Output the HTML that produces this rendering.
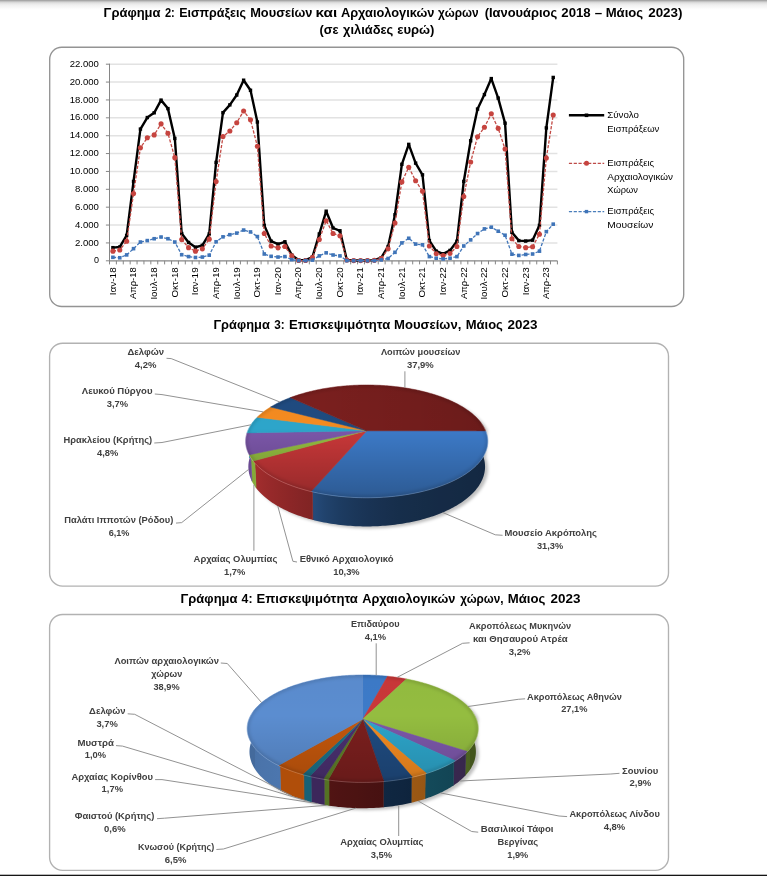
<!DOCTYPE html>
<html lang="el"><head><meta charset="utf-8"><title>Γραφήματα</title>
<style>
html,body{margin:0;padding:0;background:#fff;}
body{width:767px;height:876px;overflow:hidden;}
svg{display:block;will-change:transform;font-family:"Liberation Sans",sans-serif;}
.tt{font-size:13.4px;font-weight:bold;fill:#000;}
.lb{font-size:9.9px;font-weight:bold;fill:#404040;}
.ax{font-size:9.9px;fill:#000;}
.lg{font-size:9.8px;fill:#000;}
</style></head><body>
<svg width="767" height="876" viewBox="0 0 767 876">
<defs>
<filter id="blur2" x="-10%" y="-10%" width="120%" height="120%"><feGaussianBlur stdDeviation="1.8"/></filter>
<filter id="blur" x="-10%" y="-10%" width="120%" height="120%"><feGaussianBlur stdDeviation="1.6"/></filter>
<linearGradient id="topg" x1="0" y1="0" x2="0" y2="1">
<stop offset="0" stop-color="#989898"/><stop offset="0.12" stop-color="#bcbcbc"/><stop offset="0.28" stop-color="#e0e0e0"/><stop offset="0.5" stop-color="#f0f0f0"/><stop offset="0.8" stop-color="#fafafa"/><stop offset="1" stop-color="#ffffff"/>
</linearGradient>
<linearGradient id="sg1" gradientUnits="userSpaceOnUse" x1="245" y1="0" x2="488" y2="0">
<stop offset="0" stop-color="#000" stop-opacity="0.25"/><stop offset="0.12" stop-color="#fff" stop-opacity="0.08"/><stop offset="0.45" stop-color="#000" stop-opacity="0.0"/><stop offset="1" stop-color="#000" stop-opacity="0.35"/>
</linearGradient>
<linearGradient id="sg2" gradientUnits="userSpaceOnUse" x1="247" y1="0" x2="478" y2="0">
<stop offset="0" stop-color="#000" stop-opacity="0.15"/><stop offset="0.12" stop-color="#fff" stop-opacity="0.08"/><stop offset="0.45" stop-color="#000" stop-opacity="0.0"/><stop offset="1" stop-color="#000" stop-opacity="0.35"/>
</linearGradient>
<linearGradient id="hg1" gradientUnits="userSpaceOnUse" x1="320" y1="0" x2="488" y2="0"><stop offset="0" stop-color="#000" stop-opacity="0"/><stop offset="1" stop-color="#000" stop-opacity="0.13"/></linearGradient>
<linearGradient id="hg2" gradientUnits="userSpaceOnUse" x1="320" y1="0" x2="478" y2="0"><stop offset="0" stop-color="#000" stop-opacity="0"/><stop offset="1" stop-color="#000" stop-opacity="0.13"/></linearGradient>
<linearGradient id="tg1" gradientUnits="userSpaceOnUse" x1="0" y1="385" x2="0" y2="498">
<stop offset="0" stop-color="#000" stop-opacity="0.02"/><stop offset="0.38" stop-color="#000" stop-opacity="0"/><stop offset="1" stop-color="#000" stop-opacity="0.27"/>
</linearGradient>
<linearGradient id="tg2" gradientUnits="userSpaceOnUse" x1="0" y1="675" x2="0" y2="782">
<stop offset="0" stop-color="#000" stop-opacity="0.02"/><stop offset="0.38" stop-color="#000" stop-opacity="0"/><stop offset="1" stop-color="#000" stop-opacity="0.15"/>
</linearGradient>
</defs>
<rect width="767" height="876" fill="#fff"/>
<rect width="767" height="10" fill="url(#topg)"/>
<rect x="0" y="874.7" width="767" height="1.3" fill="#151515"/>
<text class="tt" x="103.6" y="17.0" textLength="56.9" lengthAdjust="spacingAndGlyphs">Γράφημα</text>
<text class="tt" x="164.9" y="17.0" textLength="9.9" lengthAdjust="spacingAndGlyphs">2:</text>
<text class="tt" x="179.2" y="17.0" textLength="66.8" lengthAdjust="spacingAndGlyphs">Εισπράξεις</text>
<text class="tt" x="250.2" y="17.0" textLength="62.3" lengthAdjust="spacingAndGlyphs">Μουσείων</text>
<text class="tt" x="315.6" y="17.0" textLength="21.6" lengthAdjust="spacingAndGlyphs">και</text>
<text class="tt" x="340.9" y="17.0" textLength="93.6" lengthAdjust="spacingAndGlyphs">Αρχαιολογικών</text>
<text class="tt" x="438.1" y="17.0" textLength="40.5" lengthAdjust="spacingAndGlyphs">χώρων</text>
<text class="tt" x="484.7" y="17.0" textLength="72.5" lengthAdjust="spacingAndGlyphs">(Ιανουάριος</text>
<text class="tt" x="561.3" y="17.0" textLength="29.4" lengthAdjust="spacingAndGlyphs">2018</text>
<text class="tt" x="594.8" y="17.0" textLength="7.4" lengthAdjust="spacingAndGlyphs">–</text>
<text class="tt" x="605.7" y="17.0" textLength="37.5" lengthAdjust="spacingAndGlyphs">Μάιος</text>
<text class="tt" x="648.2" y="17.0" textLength="34.3" lengthAdjust="spacingAndGlyphs">2023)</text>
<text class="tt" x="319.5" y="34.0" textLength="19.0" lengthAdjust="spacingAndGlyphs">(σε</text>
<text class="tt" x="343.0" y="34.0" textLength="50.3" lengthAdjust="spacingAndGlyphs">χιλιάδες</text>
<text class="tt" x="397.2" y="34.0" textLength="37.3" lengthAdjust="spacingAndGlyphs">ευρώ)</text>
<text class="tt" x="213.4" y="328.8" textLength="56.4" lengthAdjust="spacingAndGlyphs">Γράφημα</text>
<text class="tt" x="274.2" y="328.8" textLength="10.4" lengthAdjust="spacingAndGlyphs">3:</text>
<text class="tt" x="289.0" y="328.8" textLength="101.3" lengthAdjust="spacingAndGlyphs">Επισκεψιμότητα</text>
<text class="tt" x="394.1" y="328.8" textLength="67.2" lengthAdjust="spacingAndGlyphs">Μουσείων,</text>
<text class="tt" x="465.7" y="328.8" textLength="37.2" lengthAdjust="spacingAndGlyphs">Μάιος</text>
<text class="tt" x="507.5" y="328.8" textLength="29.9" lengthAdjust="spacingAndGlyphs">2023</text>
<text class="tt" x="180.5" y="603.3" textLength="57.0" lengthAdjust="spacingAndGlyphs">Γράφημα</text>
<text class="tt" x="241.6" y="603.3" textLength="10.9" lengthAdjust="spacingAndGlyphs">4:</text>
<text class="tt" x="256.6" y="603.3" textLength="101.3" lengthAdjust="spacingAndGlyphs">Επισκεψιμότητα</text>
<text class="tt" x="362.2" y="603.3" textLength="93.3" lengthAdjust="spacingAndGlyphs">Αρχαιολογικών</text>
<text class="tt" x="460.2" y="603.3" textLength="43.4" lengthAdjust="spacingAndGlyphs">χώρων,</text>
<text class="tt" x="507.7" y="603.3" textLength="37.6" lengthAdjust="spacingAndGlyphs">Μάιος</text>
<text class="tt" x="550.6" y="603.3" textLength="29.9" lengthAdjust="spacingAndGlyphs">2023</text>
<rect x="49.7" y="47.2" width="634.0" height="259.3" rx="12" ry="12" fill="#fff" stroke="#949494" stroke-width="1.35"/>
<line x1="109.5" y1="242.93" x2="557.4" y2="242.93" stroke="#e2e2e2" stroke-width="1.4"/>
<line x1="109.5" y1="225.05" x2="557.4" y2="225.05" stroke="#e2e2e2" stroke-width="1.4"/>
<line x1="109.5" y1="207.18" x2="557.4" y2="207.18" stroke="#e2e2e2" stroke-width="1.4"/>
<line x1="109.5" y1="189.31" x2="557.4" y2="189.31" stroke="#e2e2e2" stroke-width="1.4"/>
<line x1="109.5" y1="171.44" x2="557.4" y2="171.44" stroke="#e2e2e2" stroke-width="1.4"/>
<line x1="109.5" y1="153.56" x2="557.4" y2="153.56" stroke="#e2e2e2" stroke-width="1.4"/>
<line x1="109.5" y1="135.69" x2="557.4" y2="135.69" stroke="#e2e2e2" stroke-width="1.4"/>
<line x1="109.5" y1="117.82" x2="557.4" y2="117.82" stroke="#e2e2e2" stroke-width="1.4"/>
<line x1="109.5" y1="99.95" x2="557.4" y2="99.95" stroke="#e2e2e2" stroke-width="1.4"/>
<line x1="109.5" y1="82.07" x2="557.4" y2="82.07" stroke="#e2e2e2" stroke-width="1.4"/>
<line x1="109.5" y1="64.20" x2="557.4" y2="64.20" stroke="#e2e2e2" stroke-width="1.4"/>
<line x1="109.5" y1="63.7" x2="109.5" y2="261.3" stroke="#868686" stroke-width="1"/>
<line x1="109.0" y1="260.8" x2="557.4" y2="260.8" stroke="#868686" stroke-width="1.2"/>
<line x1="105.9" y1="260.80" x2="109.5" y2="260.80" stroke="#868686" stroke-width="1"/>
<line x1="105.9" y1="242.93" x2="109.5" y2="242.93" stroke="#868686" stroke-width="1"/>
<line x1="105.9" y1="225.05" x2="109.5" y2="225.05" stroke="#868686" stroke-width="1"/>
<line x1="105.9" y1="207.18" x2="109.5" y2="207.18" stroke="#868686" stroke-width="1"/>
<line x1="105.9" y1="189.31" x2="109.5" y2="189.31" stroke="#868686" stroke-width="1"/>
<line x1="105.9" y1="171.44" x2="109.5" y2="171.44" stroke="#868686" stroke-width="1"/>
<line x1="105.9" y1="153.56" x2="109.5" y2="153.56" stroke="#868686" stroke-width="1"/>
<line x1="105.9" y1="135.69" x2="109.5" y2="135.69" stroke="#868686" stroke-width="1"/>
<line x1="105.9" y1="117.82" x2="109.5" y2="117.82" stroke="#868686" stroke-width="1"/>
<line x1="105.9" y1="99.95" x2="109.5" y2="99.95" stroke="#868686" stroke-width="1"/>
<line x1="105.9" y1="82.07" x2="109.5" y2="82.07" stroke="#868686" stroke-width="1"/>
<line x1="105.9" y1="64.20" x2="109.5" y2="64.20" stroke="#868686" stroke-width="1"/>
<line x1="109.50" y1="260.8" x2="109.50" y2="264.40000000000003" stroke="#868686" stroke-width="1"/>
<line x1="116.39" y1="260.8" x2="116.39" y2="264.40000000000003" stroke="#868686" stroke-width="1"/>
<line x1="123.28" y1="260.8" x2="123.28" y2="264.40000000000003" stroke="#868686" stroke-width="1"/>
<line x1="130.17" y1="260.8" x2="130.17" y2="264.40000000000003" stroke="#868686" stroke-width="1"/>
<line x1="137.06" y1="260.8" x2="137.06" y2="264.40000000000003" stroke="#868686" stroke-width="1"/>
<line x1="143.95" y1="260.8" x2="143.95" y2="264.40000000000003" stroke="#868686" stroke-width="1"/>
<line x1="150.84" y1="260.8" x2="150.84" y2="264.40000000000003" stroke="#868686" stroke-width="1"/>
<line x1="157.74" y1="260.8" x2="157.74" y2="264.40000000000003" stroke="#868686" stroke-width="1"/>
<line x1="164.63" y1="260.8" x2="164.63" y2="264.40000000000003" stroke="#868686" stroke-width="1"/>
<line x1="171.52" y1="260.8" x2="171.52" y2="264.40000000000003" stroke="#868686" stroke-width="1"/>
<line x1="178.41" y1="260.8" x2="178.41" y2="264.40000000000003" stroke="#868686" stroke-width="1"/>
<line x1="185.30" y1="260.8" x2="185.30" y2="264.40000000000003" stroke="#868686" stroke-width="1"/>
<line x1="192.19" y1="260.8" x2="192.19" y2="264.40000000000003" stroke="#868686" stroke-width="1"/>
<line x1="199.08" y1="260.8" x2="199.08" y2="264.40000000000003" stroke="#868686" stroke-width="1"/>
<line x1="205.97" y1="260.8" x2="205.97" y2="264.40000000000003" stroke="#868686" stroke-width="1"/>
<line x1="212.86" y1="260.8" x2="212.86" y2="264.40000000000003" stroke="#868686" stroke-width="1"/>
<line x1="219.75" y1="260.8" x2="219.75" y2="264.40000000000003" stroke="#868686" stroke-width="1"/>
<line x1="226.64" y1="260.8" x2="226.64" y2="264.40000000000003" stroke="#868686" stroke-width="1"/>
<line x1="233.53" y1="260.8" x2="233.53" y2="264.40000000000003" stroke="#868686" stroke-width="1"/>
<line x1="240.42" y1="260.8" x2="240.42" y2="264.40000000000003" stroke="#868686" stroke-width="1"/>
<line x1="247.32" y1="260.8" x2="247.32" y2="264.40000000000003" stroke="#868686" stroke-width="1"/>
<line x1="254.21" y1="260.8" x2="254.21" y2="264.40000000000003" stroke="#868686" stroke-width="1"/>
<line x1="261.10" y1="260.8" x2="261.10" y2="264.40000000000003" stroke="#868686" stroke-width="1"/>
<line x1="267.99" y1="260.8" x2="267.99" y2="264.40000000000003" stroke="#868686" stroke-width="1"/>
<line x1="274.88" y1="260.8" x2="274.88" y2="264.40000000000003" stroke="#868686" stroke-width="1"/>
<line x1="281.77" y1="260.8" x2="281.77" y2="264.40000000000003" stroke="#868686" stroke-width="1"/>
<line x1="288.66" y1="260.8" x2="288.66" y2="264.40000000000003" stroke="#868686" stroke-width="1"/>
<line x1="295.55" y1="260.8" x2="295.55" y2="264.40000000000003" stroke="#868686" stroke-width="1"/>
<line x1="302.44" y1="260.8" x2="302.44" y2="264.40000000000003" stroke="#868686" stroke-width="1"/>
<line x1="309.33" y1="260.8" x2="309.33" y2="264.40000000000003" stroke="#868686" stroke-width="1"/>
<line x1="316.22" y1="260.8" x2="316.22" y2="264.40000000000003" stroke="#868686" stroke-width="1"/>
<line x1="323.11" y1="260.8" x2="323.11" y2="264.40000000000003" stroke="#868686" stroke-width="1"/>
<line x1="330.00" y1="260.8" x2="330.00" y2="264.40000000000003" stroke="#868686" stroke-width="1"/>
<line x1="336.90" y1="260.8" x2="336.90" y2="264.40000000000003" stroke="#868686" stroke-width="1"/>
<line x1="343.79" y1="260.8" x2="343.79" y2="264.40000000000003" stroke="#868686" stroke-width="1"/>
<line x1="350.68" y1="260.8" x2="350.68" y2="264.40000000000003" stroke="#868686" stroke-width="1"/>
<line x1="357.57" y1="260.8" x2="357.57" y2="264.40000000000003" stroke="#868686" stroke-width="1"/>
<line x1="364.46" y1="260.8" x2="364.46" y2="264.40000000000003" stroke="#868686" stroke-width="1"/>
<line x1="371.35" y1="260.8" x2="371.35" y2="264.40000000000003" stroke="#868686" stroke-width="1"/>
<line x1="378.24" y1="260.8" x2="378.24" y2="264.40000000000003" stroke="#868686" stroke-width="1"/>
<line x1="385.13" y1="260.8" x2="385.13" y2="264.40000000000003" stroke="#868686" stroke-width="1"/>
<line x1="392.02" y1="260.8" x2="392.02" y2="264.40000000000003" stroke="#868686" stroke-width="1"/>
<line x1="398.91" y1="260.8" x2="398.91" y2="264.40000000000003" stroke="#868686" stroke-width="1"/>
<line x1="405.80" y1="260.8" x2="405.80" y2="264.40000000000003" stroke="#868686" stroke-width="1"/>
<line x1="412.69" y1="260.8" x2="412.69" y2="264.40000000000003" stroke="#868686" stroke-width="1"/>
<line x1="419.58" y1="260.8" x2="419.58" y2="264.40000000000003" stroke="#868686" stroke-width="1"/>
<line x1="426.48" y1="260.8" x2="426.48" y2="264.40000000000003" stroke="#868686" stroke-width="1"/>
<line x1="433.37" y1="260.8" x2="433.37" y2="264.40000000000003" stroke="#868686" stroke-width="1"/>
<line x1="440.26" y1="260.8" x2="440.26" y2="264.40000000000003" stroke="#868686" stroke-width="1"/>
<line x1="447.15" y1="260.8" x2="447.15" y2="264.40000000000003" stroke="#868686" stroke-width="1"/>
<line x1="454.04" y1="260.8" x2="454.04" y2="264.40000000000003" stroke="#868686" stroke-width="1"/>
<line x1="460.93" y1="260.8" x2="460.93" y2="264.40000000000003" stroke="#868686" stroke-width="1"/>
<line x1="467.82" y1="260.8" x2="467.82" y2="264.40000000000003" stroke="#868686" stroke-width="1"/>
<line x1="474.71" y1="260.8" x2="474.71" y2="264.40000000000003" stroke="#868686" stroke-width="1"/>
<line x1="481.60" y1="260.8" x2="481.60" y2="264.40000000000003" stroke="#868686" stroke-width="1"/>
<line x1="488.49" y1="260.8" x2="488.49" y2="264.40000000000003" stroke="#868686" stroke-width="1"/>
<line x1="495.38" y1="260.8" x2="495.38" y2="264.40000000000003" stroke="#868686" stroke-width="1"/>
<line x1="502.27" y1="260.8" x2="502.27" y2="264.40000000000003" stroke="#868686" stroke-width="1"/>
<line x1="509.16" y1="260.8" x2="509.16" y2="264.40000000000003" stroke="#868686" stroke-width="1"/>
<line x1="516.06" y1="260.8" x2="516.06" y2="264.40000000000003" stroke="#868686" stroke-width="1"/>
<line x1="522.95" y1="260.8" x2="522.95" y2="264.40000000000003" stroke="#868686" stroke-width="1"/>
<line x1="529.84" y1="260.8" x2="529.84" y2="264.40000000000003" stroke="#868686" stroke-width="1"/>
<line x1="536.73" y1="260.8" x2="536.73" y2="264.40000000000003" stroke="#868686" stroke-width="1"/>
<line x1="543.62" y1="260.8" x2="543.62" y2="264.40000000000003" stroke="#868686" stroke-width="1"/>
<line x1="550.51" y1="260.8" x2="550.51" y2="264.40000000000003" stroke="#868686" stroke-width="1"/>
<line x1="557.40" y1="260.8" x2="557.40" y2="264.40000000000003" stroke="#868686" stroke-width="1"/>
<text class="ax" x="93.9" y="263.4" textLength="5.0" lengthAdjust="spacingAndGlyphs">0</text>
<text class="ax" x="74.9" y="245.5" textLength="24.0" lengthAdjust="spacingAndGlyphs">2.000</text>
<text class="ax" x="74.9" y="227.7" textLength="24.0" lengthAdjust="spacingAndGlyphs">4.000</text>
<text class="ax" x="74.9" y="209.8" textLength="24.0" lengthAdjust="spacingAndGlyphs">6.000</text>
<text class="ax" x="74.9" y="191.9" textLength="24.0" lengthAdjust="spacingAndGlyphs">8.000</text>
<text class="ax" x="69.7" y="174.0" textLength="29.2" lengthAdjust="spacingAndGlyphs">10.000</text>
<text class="ax" x="69.7" y="156.2" textLength="29.2" lengthAdjust="spacingAndGlyphs">12.000</text>
<text class="ax" x="69.7" y="138.3" textLength="29.2" lengthAdjust="spacingAndGlyphs">14.000</text>
<text class="ax" x="69.7" y="120.4" textLength="29.2" lengthAdjust="spacingAndGlyphs">16.000</text>
<text class="ax" x="69.7" y="102.5" textLength="29.2" lengthAdjust="spacingAndGlyphs">18.000</text>
<text class="ax" x="69.7" y="84.7" textLength="29.2" lengthAdjust="spacingAndGlyphs">20.000</text>
<text class="ax" x="69.7" y="66.8" textLength="29.2" lengthAdjust="spacingAndGlyphs">22.000</text>
<text class="ax" transform="translate(115.70,295.3) rotate(-90)" textLength="28.0" lengthAdjust="spacingAndGlyphs">Ιαν-18</text>
<text class="ax" transform="translate(136.34,299.1) rotate(-90)" textLength="31.8" lengthAdjust="spacingAndGlyphs">Απρ-18</text>
<text class="ax" transform="translate(156.98,299.6) rotate(-90)" textLength="32.3" lengthAdjust="spacingAndGlyphs">Ιουλ-18</text>
<text class="ax" transform="translate(177.62,297.5) rotate(-90)" textLength="30.2" lengthAdjust="spacingAndGlyphs">Οκτ-18</text>
<text class="ax" transform="translate(198.26,295.3) rotate(-90)" textLength="28.0" lengthAdjust="spacingAndGlyphs">Ιαν-19</text>
<text class="ax" transform="translate(218.90,299.1) rotate(-90)" textLength="31.8" lengthAdjust="spacingAndGlyphs">Απρ-19</text>
<text class="ax" transform="translate(239.54,299.6) rotate(-90)" textLength="32.3" lengthAdjust="spacingAndGlyphs">Ιουλ-19</text>
<text class="ax" transform="translate(260.18,297.5) rotate(-90)" textLength="30.2" lengthAdjust="spacingAndGlyphs">Οκτ-19</text>
<text class="ax" transform="translate(280.82,295.3) rotate(-90)" textLength="28.0" lengthAdjust="spacingAndGlyphs">Ιαν-20</text>
<text class="ax" transform="translate(301.46,299.1) rotate(-90)" textLength="31.8" lengthAdjust="spacingAndGlyphs">Απρ-20</text>
<text class="ax" transform="translate(322.10,299.6) rotate(-90)" textLength="32.3" lengthAdjust="spacingAndGlyphs">Ιουλ-20</text>
<text class="ax" transform="translate(342.74,297.5) rotate(-90)" textLength="30.2" lengthAdjust="spacingAndGlyphs">Οκτ-20</text>
<text class="ax" transform="translate(363.38,295.3) rotate(-90)" textLength="28.0" lengthAdjust="spacingAndGlyphs">Ιαν-21</text>
<text class="ax" transform="translate(384.02,299.1) rotate(-90)" textLength="31.8" lengthAdjust="spacingAndGlyphs">Απρ-21</text>
<text class="ax" transform="translate(404.66,299.6) rotate(-90)" textLength="32.3" lengthAdjust="spacingAndGlyphs">Ιουλ-21</text>
<text class="ax" transform="translate(425.30,297.5) rotate(-90)" textLength="30.2" lengthAdjust="spacingAndGlyphs">Οκτ-21</text>
<text class="ax" transform="translate(445.94,295.3) rotate(-90)" textLength="28.0" lengthAdjust="spacingAndGlyphs">Ιαν-22</text>
<text class="ax" transform="translate(466.58,299.1) rotate(-90)" textLength="31.8" lengthAdjust="spacingAndGlyphs">Απρ-22</text>
<text class="ax" transform="translate(487.22,299.6) rotate(-90)" textLength="32.3" lengthAdjust="spacingAndGlyphs">Ιουλ-22</text>
<text class="ax" transform="translate(507.86,297.5) rotate(-90)" textLength="30.2" lengthAdjust="spacingAndGlyphs">Οκτ-22</text>
<text class="ax" transform="translate(528.50,295.3) rotate(-90)" textLength="28.0" lengthAdjust="spacingAndGlyphs">Ιαν-23</text>
<text class="ax" transform="translate(549.14,299.1) rotate(-90)" textLength="31.8" lengthAdjust="spacingAndGlyphs">Απρ-23</text>
<polyline points="112.90,247.65 119.78,246.95 126.66,235.42 133.54,181.45 140.42,129.08 147.30,117.55 154.18,112.81 161.06,100.12 167.94,108.61 174.82,138.46 181.70,233.54 188.58,242.48 195.46,247.22 202.34,245.34 209.22,233.99 216.10,162.41 222.98,112.64 229.86,104.86 236.74,95.03 243.62,80.20 250.50,90.29 257.38,122.02 264.26,225.32 271.14,241.14 278.02,244.09 284.90,241.77 291.78,255.17 298.66,260.09 305.54,260.09 312.42,257.05 319.30,233.99 326.18,211.20 333.06,228.00 339.94,230.77 346.82,259.91 353.70,260.53 360.58,260.53 367.46,260.35 374.34,260.09 381.22,257.76 388.10,246.50 394.98,214.78 401.86,164.29 408.74,144.36 415.62,163.13 422.50,174.83 429.38,240.60 436.26,251.15 443.14,253.83 450.02,250.43 456.90,241.32 463.78,181.45 470.66,140.78 477.54,109.06 484.42,94.58 491.30,78.59 498.18,98.07 505.06,123.18 511.94,232.38 518.82,240.60 525.70,241.05 532.58,240.16 539.46,225.32 546.34,127.92 553.22,77.43" fill="none" stroke="#000" stroke-width="2.4" stroke-linejoin="round"/>
<rect x="111.20" y="245.95" width="3.4" height="3.4" fill="#000"/>
<rect x="118.08" y="245.25" width="3.4" height="3.4" fill="#000"/>
<rect x="124.96" y="233.72" width="3.4" height="3.4" fill="#000"/>
<rect x="131.84" y="179.75" width="3.4" height="3.4" fill="#000"/>
<rect x="138.72" y="127.38" width="3.4" height="3.4" fill="#000"/>
<rect x="145.60" y="115.85" width="3.4" height="3.4" fill="#000"/>
<rect x="152.48" y="111.11" width="3.4" height="3.4" fill="#000"/>
<rect x="159.36" y="98.42" width="3.4" height="3.4" fill="#000"/>
<rect x="166.24" y="106.91" width="3.4" height="3.4" fill="#000"/>
<rect x="173.12" y="136.76" width="3.4" height="3.4" fill="#000"/>
<rect x="180.00" y="231.84" width="3.4" height="3.4" fill="#000"/>
<rect x="186.88" y="240.78" width="3.4" height="3.4" fill="#000"/>
<rect x="193.76" y="245.52" width="3.4" height="3.4" fill="#000"/>
<rect x="200.64" y="243.64" width="3.4" height="3.4" fill="#000"/>
<rect x="207.52" y="232.29" width="3.4" height="3.4" fill="#000"/>
<rect x="214.40" y="160.71" width="3.4" height="3.4" fill="#000"/>
<rect x="221.28" y="110.94" width="3.4" height="3.4" fill="#000"/>
<rect x="228.16" y="103.16" width="3.4" height="3.4" fill="#000"/>
<rect x="235.04" y="93.33" width="3.4" height="3.4" fill="#000"/>
<rect x="241.92" y="78.50" width="3.4" height="3.4" fill="#000"/>
<rect x="248.80" y="88.59" width="3.4" height="3.4" fill="#000"/>
<rect x="255.68" y="120.32" width="3.4" height="3.4" fill="#000"/>
<rect x="262.56" y="223.62" width="3.4" height="3.4" fill="#000"/>
<rect x="269.44" y="239.44" width="3.4" height="3.4" fill="#000"/>
<rect x="276.32" y="242.39" width="3.4" height="3.4" fill="#000"/>
<rect x="283.20" y="240.07" width="3.4" height="3.4" fill="#000"/>
<rect x="290.08" y="253.47" width="3.4" height="3.4" fill="#000"/>
<rect x="296.96" y="258.39" width="3.4" height="3.4" fill="#000"/>
<rect x="303.84" y="258.39" width="3.4" height="3.4" fill="#000"/>
<rect x="310.72" y="255.35" width="3.4" height="3.4" fill="#000"/>
<rect x="317.60" y="232.29" width="3.4" height="3.4" fill="#000"/>
<rect x="324.48" y="209.50" width="3.4" height="3.4" fill="#000"/>
<rect x="331.36" y="226.30" width="3.4" height="3.4" fill="#000"/>
<rect x="338.24" y="229.07" width="3.4" height="3.4" fill="#000"/>
<rect x="345.12" y="258.21" width="3.4" height="3.4" fill="#000"/>
<rect x="352.00" y="258.83" width="3.4" height="3.4" fill="#000"/>
<rect x="358.88" y="258.83" width="3.4" height="3.4" fill="#000"/>
<rect x="365.76" y="258.65" width="3.4" height="3.4" fill="#000"/>
<rect x="372.64" y="258.39" width="3.4" height="3.4" fill="#000"/>
<rect x="379.52" y="256.06" width="3.4" height="3.4" fill="#000"/>
<rect x="386.40" y="244.80" width="3.4" height="3.4" fill="#000"/>
<rect x="393.28" y="213.08" width="3.4" height="3.4" fill="#000"/>
<rect x="400.16" y="162.59" width="3.4" height="3.4" fill="#000"/>
<rect x="407.04" y="142.66" width="3.4" height="3.4" fill="#000"/>
<rect x="413.92" y="161.43" width="3.4" height="3.4" fill="#000"/>
<rect x="420.80" y="173.13" width="3.4" height="3.4" fill="#000"/>
<rect x="427.68" y="238.90" width="3.4" height="3.4" fill="#000"/>
<rect x="434.56" y="249.45" width="3.4" height="3.4" fill="#000"/>
<rect x="441.44" y="252.13" width="3.4" height="3.4" fill="#000"/>
<rect x="448.32" y="248.73" width="3.4" height="3.4" fill="#000"/>
<rect x="455.20" y="239.62" width="3.4" height="3.4" fill="#000"/>
<rect x="462.08" y="179.75" width="3.4" height="3.4" fill="#000"/>
<rect x="468.96" y="139.08" width="3.4" height="3.4" fill="#000"/>
<rect x="475.84" y="107.36" width="3.4" height="3.4" fill="#000"/>
<rect x="482.72" y="92.88" width="3.4" height="3.4" fill="#000"/>
<rect x="489.60" y="76.89" width="3.4" height="3.4" fill="#000"/>
<rect x="496.48" y="96.37" width="3.4" height="3.4" fill="#000"/>
<rect x="503.36" y="121.48" width="3.4" height="3.4" fill="#000"/>
<rect x="510.24" y="230.68" width="3.4" height="3.4" fill="#000"/>
<rect x="517.12" y="238.90" width="3.4" height="3.4" fill="#000"/>
<rect x="524.00" y="239.35" width="3.4" height="3.4" fill="#000"/>
<rect x="530.88" y="238.46" width="3.4" height="3.4" fill="#000"/>
<rect x="537.76" y="223.62" width="3.4" height="3.4" fill="#000"/>
<rect x="544.64" y="126.22" width="3.4" height="3.4" fill="#000"/>
<rect x="551.52" y="75.73" width="3.4" height="3.4" fill="#000"/>
<polyline points="112.90,251.15 119.78,249.99 126.66,241.32 133.54,193.60 140.42,147.84 147.30,137.75 154.18,134.89 161.06,123.89 167.94,133.28 174.82,157.67 181.70,239.62 188.58,247.66 195.46,251.15 202.34,248.83 209.22,239.17 216.10,181.45 222.98,136.58 229.86,130.95 236.74,122.73 243.62,110.94 250.50,119.87 257.38,146.24 264.26,233.54 271.14,245.97 278.02,247.84 284.90,246.50 291.78,255.89 298.66,260.53 305.54,260.53 312.42,257.49 319.30,239.44 326.18,220.68 333.06,233.54 339.94,235.87 346.82,260.09 353.70,260.58 360.58,260.58 367.46,260.58 374.34,260.35 381.22,258.66 388.10,248.83 394.98,223.00 401.86,181.89 408.74,167.33 415.62,180.73 422.50,191.28 429.38,245.97 436.26,253.74 443.14,255.62 450.02,253.56 456.90,246.50 463.78,196.46 470.66,161.96 477.54,136.76 484.42,127.20 491.30,113.80 498.18,128.36 505.06,149.01 511.94,238.73 518.82,246.50 525.70,247.66 532.58,246.68 539.46,234.26 546.34,157.94 553.22,114.96" fill="none" stroke="#c24a45" stroke-width="1.3" stroke-dasharray="3.2 1.6"/>
<circle cx="112.90" cy="251.15" r="2.55" fill="#c6443f"/>
<circle cx="119.78" cy="249.99" r="2.55" fill="#c6443f"/>
<circle cx="126.66" cy="241.32" r="2.55" fill="#c6443f"/>
<circle cx="133.54" cy="193.60" r="2.55" fill="#c6443f"/>
<circle cx="140.42" cy="147.84" r="2.55" fill="#c6443f"/>
<circle cx="147.30" cy="137.75" r="2.55" fill="#c6443f"/>
<circle cx="154.18" cy="134.89" r="2.55" fill="#c6443f"/>
<circle cx="161.06" cy="123.89" r="2.55" fill="#c6443f"/>
<circle cx="167.94" cy="133.28" r="2.55" fill="#c6443f"/>
<circle cx="174.82" cy="157.67" r="2.55" fill="#c6443f"/>
<circle cx="181.70" cy="239.62" r="2.55" fill="#c6443f"/>
<circle cx="188.58" cy="247.66" r="2.55" fill="#c6443f"/>
<circle cx="195.46" cy="251.15" r="2.55" fill="#c6443f"/>
<circle cx="202.34" cy="248.83" r="2.55" fill="#c6443f"/>
<circle cx="209.22" cy="239.17" r="2.55" fill="#c6443f"/>
<circle cx="216.10" cy="181.45" r="2.55" fill="#c6443f"/>
<circle cx="222.98" cy="136.58" r="2.55" fill="#c6443f"/>
<circle cx="229.86" cy="130.95" r="2.55" fill="#c6443f"/>
<circle cx="236.74" cy="122.73" r="2.55" fill="#c6443f"/>
<circle cx="243.62" cy="110.94" r="2.55" fill="#c6443f"/>
<circle cx="250.50" cy="119.87" r="2.55" fill="#c6443f"/>
<circle cx="257.38" cy="146.24" r="2.55" fill="#c6443f"/>
<circle cx="264.26" cy="233.54" r="2.55" fill="#c6443f"/>
<circle cx="271.14" cy="245.97" r="2.55" fill="#c6443f"/>
<circle cx="278.02" cy="247.84" r="2.55" fill="#c6443f"/>
<circle cx="284.90" cy="246.50" r="2.55" fill="#c6443f"/>
<circle cx="291.78" cy="255.89" r="2.55" fill="#c6443f"/>
<circle cx="298.66" cy="260.53" r="2.55" fill="#c6443f"/>
<circle cx="305.54" cy="260.53" r="2.55" fill="#c6443f"/>
<circle cx="312.42" cy="257.49" r="2.55" fill="#c6443f"/>
<circle cx="319.30" cy="239.44" r="2.55" fill="#c6443f"/>
<circle cx="326.18" cy="220.68" r="2.55" fill="#c6443f"/>
<circle cx="333.06" cy="233.54" r="2.55" fill="#c6443f"/>
<circle cx="339.94" cy="235.87" r="2.55" fill="#c6443f"/>
<circle cx="346.82" cy="260.09" r="2.55" fill="#c6443f"/>
<circle cx="353.70" cy="260.58" r="2.55" fill="#c6443f"/>
<circle cx="360.58" cy="260.58" r="2.55" fill="#c6443f"/>
<circle cx="367.46" cy="260.58" r="2.55" fill="#c6443f"/>
<circle cx="374.34" cy="260.35" r="2.55" fill="#c6443f"/>
<circle cx="381.22" cy="258.66" r="2.55" fill="#c6443f"/>
<circle cx="388.10" cy="248.83" r="2.55" fill="#c6443f"/>
<circle cx="394.98" cy="223.00" r="2.55" fill="#c6443f"/>
<circle cx="401.86" cy="181.89" r="2.55" fill="#c6443f"/>
<circle cx="408.74" cy="167.33" r="2.55" fill="#c6443f"/>
<circle cx="415.62" cy="180.73" r="2.55" fill="#c6443f"/>
<circle cx="422.50" cy="191.28" r="2.55" fill="#c6443f"/>
<circle cx="429.38" cy="245.97" r="2.55" fill="#c6443f"/>
<circle cx="436.26" cy="253.74" r="2.55" fill="#c6443f"/>
<circle cx="443.14" cy="255.62" r="2.55" fill="#c6443f"/>
<circle cx="450.02" cy="253.56" r="2.55" fill="#c6443f"/>
<circle cx="456.90" cy="246.50" r="2.55" fill="#c6443f"/>
<circle cx="463.78" cy="196.46" r="2.55" fill="#c6443f"/>
<circle cx="470.66" cy="161.96" r="2.55" fill="#c6443f"/>
<circle cx="477.54" cy="136.76" r="2.55" fill="#c6443f"/>
<circle cx="484.42" cy="127.20" r="2.55" fill="#c6443f"/>
<circle cx="491.30" cy="113.80" r="2.55" fill="#c6443f"/>
<circle cx="498.18" cy="128.36" r="2.55" fill="#c6443f"/>
<circle cx="505.06" cy="149.01" r="2.55" fill="#c6443f"/>
<circle cx="511.94" cy="238.73" r="2.55" fill="#c6443f"/>
<circle cx="518.82" cy="246.50" r="2.55" fill="#c6443f"/>
<circle cx="525.70" cy="247.66" r="2.55" fill="#c6443f"/>
<circle cx="532.58" cy="246.68" r="2.55" fill="#c6443f"/>
<circle cx="539.46" cy="234.26" r="2.55" fill="#c6443f"/>
<circle cx="546.34" cy="157.94" r="2.55" fill="#c6443f"/>
<circle cx="553.22" cy="114.96" r="2.55" fill="#c6443f"/>
<polyline points="112.90,257.31 119.78,257.76 126.66,254.90 133.54,248.65 140.42,242.03 147.30,240.60 154.18,238.73 161.06,237.03 167.94,238.73 174.82,242.03 181.70,254.72 188.58,256.60 195.46,257.49 202.34,257.05 209.22,255.17 216.10,241.77 222.98,236.85 229.86,234.71 236.74,233.10 243.62,230.06 250.50,231.94 257.38,236.58 264.26,254.01 271.14,256.33 278.02,257.05 284.90,256.60 291.78,259.64 298.66,260.62 305.54,260.62 312.42,260.09 319.30,255.89 326.18,252.85 333.06,254.99 339.94,255.89 346.82,260.62 353.70,260.71 360.58,260.71 367.46,260.71 374.34,260.71 381.22,259.91 388.10,258.48 394.98,252.31 401.86,242.93 408.74,238.28 415.62,244.09 422.50,244.80 429.38,256.60 436.26,258.21 443.14,258.92 450.02,258.21 456.90,256.60 463.78,245.97 470.66,239.89 477.54,233.54 484.42,228.90 491.30,227.20 498.18,231.22 505.06,235.24 511.94,254.19 518.82,255.44 525.70,254.46 532.58,254.01 539.46,251.15 546.34,231.67 553.22,224.16" fill="none" stroke="#4377b9" stroke-width="1.3" stroke-dasharray="3.2 1.6"/>
<rect x="111.10" y="255.51" width="3.6" height="3.6" fill="#3f74b8"/>
<rect x="117.98" y="255.96" width="3.6" height="3.6" fill="#3f74b8"/>
<rect x="124.86" y="253.10" width="3.6" height="3.6" fill="#3f74b8"/>
<rect x="131.74" y="246.85" width="3.6" height="3.6" fill="#3f74b8"/>
<rect x="138.62" y="240.23" width="3.6" height="3.6" fill="#3f74b8"/>
<rect x="145.50" y="238.80" width="3.6" height="3.6" fill="#3f74b8"/>
<rect x="152.38" y="236.93" width="3.6" height="3.6" fill="#3f74b8"/>
<rect x="159.26" y="235.23" width="3.6" height="3.6" fill="#3f74b8"/>
<rect x="166.14" y="236.93" width="3.6" height="3.6" fill="#3f74b8"/>
<rect x="173.02" y="240.23" width="3.6" height="3.6" fill="#3f74b8"/>
<rect x="179.90" y="252.92" width="3.6" height="3.6" fill="#3f74b8"/>
<rect x="186.78" y="254.80" width="3.6" height="3.6" fill="#3f74b8"/>
<rect x="193.66" y="255.69" width="3.6" height="3.6" fill="#3f74b8"/>
<rect x="200.54" y="255.25" width="3.6" height="3.6" fill="#3f74b8"/>
<rect x="207.42" y="253.37" width="3.6" height="3.6" fill="#3f74b8"/>
<rect x="214.30" y="239.97" width="3.6" height="3.6" fill="#3f74b8"/>
<rect x="221.18" y="235.05" width="3.6" height="3.6" fill="#3f74b8"/>
<rect x="228.06" y="232.91" width="3.6" height="3.6" fill="#3f74b8"/>
<rect x="234.94" y="231.30" width="3.6" height="3.6" fill="#3f74b8"/>
<rect x="241.82" y="228.26" width="3.6" height="3.6" fill="#3f74b8"/>
<rect x="248.70" y="230.14" width="3.6" height="3.6" fill="#3f74b8"/>
<rect x="255.58" y="234.78" width="3.6" height="3.6" fill="#3f74b8"/>
<rect x="262.46" y="252.21" width="3.6" height="3.6" fill="#3f74b8"/>
<rect x="269.34" y="254.53" width="3.6" height="3.6" fill="#3f74b8"/>
<rect x="276.22" y="255.25" width="3.6" height="3.6" fill="#3f74b8"/>
<rect x="283.10" y="254.80" width="3.6" height="3.6" fill="#3f74b8"/>
<rect x="289.98" y="257.84" width="3.6" height="3.6" fill="#3f74b8"/>
<rect x="296.86" y="258.82" width="3.6" height="3.6" fill="#3f74b8"/>
<rect x="303.74" y="258.82" width="3.6" height="3.6" fill="#3f74b8"/>
<rect x="310.62" y="258.29" width="3.6" height="3.6" fill="#3f74b8"/>
<rect x="317.50" y="254.09" width="3.6" height="3.6" fill="#3f74b8"/>
<rect x="324.38" y="251.05" width="3.6" height="3.6" fill="#3f74b8"/>
<rect x="331.26" y="253.19" width="3.6" height="3.6" fill="#3f74b8"/>
<rect x="338.14" y="254.09" width="3.6" height="3.6" fill="#3f74b8"/>
<rect x="345.02" y="258.82" width="3.6" height="3.6" fill="#3f74b8"/>
<rect x="351.90" y="258.91" width="3.6" height="3.6" fill="#3f74b8"/>
<rect x="358.78" y="258.91" width="3.6" height="3.6" fill="#3f74b8"/>
<rect x="365.66" y="258.91" width="3.6" height="3.6" fill="#3f74b8"/>
<rect x="372.54" y="258.91" width="3.6" height="3.6" fill="#3f74b8"/>
<rect x="379.42" y="258.11" width="3.6" height="3.6" fill="#3f74b8"/>
<rect x="386.30" y="256.68" width="3.6" height="3.6" fill="#3f74b8"/>
<rect x="393.18" y="250.51" width="3.6" height="3.6" fill="#3f74b8"/>
<rect x="400.06" y="241.13" width="3.6" height="3.6" fill="#3f74b8"/>
<rect x="406.94" y="236.48" width="3.6" height="3.6" fill="#3f74b8"/>
<rect x="413.82" y="242.29" width="3.6" height="3.6" fill="#3f74b8"/>
<rect x="420.70" y="243.00" width="3.6" height="3.6" fill="#3f74b8"/>
<rect x="427.58" y="254.80" width="3.6" height="3.6" fill="#3f74b8"/>
<rect x="434.46" y="256.41" width="3.6" height="3.6" fill="#3f74b8"/>
<rect x="441.34" y="257.12" width="3.6" height="3.6" fill="#3f74b8"/>
<rect x="448.22" y="256.41" width="3.6" height="3.6" fill="#3f74b8"/>
<rect x="455.10" y="254.80" width="3.6" height="3.6" fill="#3f74b8"/>
<rect x="461.98" y="244.17" width="3.6" height="3.6" fill="#3f74b8"/>
<rect x="468.86" y="238.09" width="3.6" height="3.6" fill="#3f74b8"/>
<rect x="475.74" y="231.74" width="3.6" height="3.6" fill="#3f74b8"/>
<rect x="482.62" y="227.10" width="3.6" height="3.6" fill="#3f74b8"/>
<rect x="489.50" y="225.40" width="3.6" height="3.6" fill="#3f74b8"/>
<rect x="496.38" y="229.42" width="3.6" height="3.6" fill="#3f74b8"/>
<rect x="503.26" y="233.44" width="3.6" height="3.6" fill="#3f74b8"/>
<rect x="510.14" y="252.39" width="3.6" height="3.6" fill="#3f74b8"/>
<rect x="517.02" y="253.64" width="3.6" height="3.6" fill="#3f74b8"/>
<rect x="523.90" y="252.66" width="3.6" height="3.6" fill="#3f74b8"/>
<rect x="530.78" y="252.21" width="3.6" height="3.6" fill="#3f74b8"/>
<rect x="537.66" y="249.35" width="3.6" height="3.6" fill="#3f74b8"/>
<rect x="544.54" y="229.87" width="3.6" height="3.6" fill="#3f74b8"/>
<rect x="551.42" y="222.36" width="3.6" height="3.6" fill="#3f74b8"/>
<line x1="568.9" y1="115.3" x2="604.2" y2="115.3" stroke="#000" stroke-width="2.4"/>
<rect x="584.7" y="113.5" width="3.6" height="3.6" fill="#000"/>
<line x1="568.9" y1="163.3" x2="604.2" y2="163.3" stroke="#be4b48" stroke-width="1.2" stroke-dasharray="3.2 1.6"/>
<circle cx="586.5" cy="163.3" r="2.5" fill="#c6443f"/>
<line x1="568.9" y1="211.6" x2="604.2" y2="211.6" stroke="#4a7ebb" stroke-width="1.2" stroke-dasharray="3.2 1.6"/>
<rect x="584.8" y="209.9" width="3.4" height="3.4" fill="#3f74b8"/>
<text class="lg" x="607.3" y="117.7" textLength="31.5" lengthAdjust="spacingAndGlyphs">Σύνολο</text>
<text class="lg" x="607.3" y="132.0" textLength="52.0" lengthAdjust="spacingAndGlyphs">Εισπράξεων</text>
<text class="lg" x="607.3" y="165.9" textLength="46.9" lengthAdjust="spacingAndGlyphs">Εισπράξεις</text>
<text class="lg" x="607.3" y="179.9" textLength="65.7" lengthAdjust="spacingAndGlyphs">Αρχαιολογικών</text>
<text class="lg" x="607.3" y="192.7" textLength="30.6" lengthAdjust="spacingAndGlyphs">Χώρων</text>
<text class="lg" x="607.3" y="213.8" textLength="46.9" lengthAdjust="spacingAndGlyphs">Εισπράξεις</text>
<text class="lg" x="607.3" y="227.8" textLength="46.0" lengthAdjust="spacingAndGlyphs">Μουσείων</text>
<rect x="49.6" y="343.2" width="618.9" height="242.9" rx="13" ry="13" fill="#fff" stroke="#b2b2b2" stroke-width="1.35"/>
<path d="M486.07,457.83 L487.03,460.88 L487.68,463.98 L488.01,467.13 L488.01,470.30 L487.67,473.51 L486.98,476.73 L485.94,479.96 L484.53,483.19 L482.75,486.40 L480.59,489.58 L478.06,492.73 L475.15,495.82 L471.86,498.86 L468.20,501.81 L464.17,504.68 L459.77,507.44 L455.03,510.08 L449.94,512.60 L444.52,514.97 L438.80,517.18 L432.78,519.23 L426.49,521.09 L419.96,522.76 L413.21,524.23 L406.26,525.49 L399.15,526.53 L391.90,527.35 L384.56,527.94 L377.15,528.29 L369.70,528.41 L362.25,528.29 L354.84,527.94 L347.50,527.35 L340.25,526.53 L333.14,525.49 L326.19,524.23 L319.44,522.76 L312.91,521.09 L306.62,519.23 L300.60,517.18 L294.88,514.97 L289.46,512.60 L284.37,510.08 L279.63,507.44 L275.23,504.68 L271.20,501.81 L267.54,498.86 L264.25,495.82 L261.34,492.73 L258.81,489.58 L256.65,486.40 L254.87,483.19 L253.46,479.96 L252.42,476.73 L251.73,473.51 L251.39,470.30 L251.39,467.13 L251.72,463.98 L252.37,460.88 L253.33,457.83 L252.01,429.98 L253.61,427.23 L255.50,424.54 L257.65,421.92 L260.05,419.38 L262.69,416.92 L265.56,414.55 L268.65,412.26 L271.95,410.06 L275.43,407.95 L279.10,405.93 L282.94,404.02 L286.93,402.19 L291.08,400.47 L295.36,398.85 L299.77,397.33 L304.29,395.92 L308.92,394.60 L313.65,393.39 L318.47,392.28 L323.37,391.28 L328.34,390.38 L333.38,389.59 L338.47,388.91 L343.60,388.32 L348.78,387.85 L353.98,387.48 L359.21,387.21 L364.45,387.05 L369.70,387.00 L374.95,387.05 L380.19,387.21 L385.42,387.48 L390.62,387.85 L395.80,388.32 L400.93,388.91 L406.02,389.59 L411.06,390.38 L416.03,391.28 L420.93,392.28 L425.75,393.39 L430.48,394.60 L435.11,395.92 L439.63,397.33 L444.04,398.85 L448.32,400.47 L452.47,402.19 L456.46,404.02 L460.30,405.93 L463.97,407.95 L467.45,410.06 L470.75,412.26 L473.84,414.55 L476.71,416.92 L479.35,419.38 L481.75,421.92 L483.90,424.54 L485.79,427.23 L487.39,429.98Z" fill="#000" fill-opacity="0.25" filter="url(#blur2)"/>
<linearGradient id="g1_0_360" gradientUnits="userSpaceOnUse" x1="485.70" y1="0" x2="311.28" y2="0"><stop offset="0.000" stop-color="#12263e"/><stop offset="0.000" stop-color="#13263f"/><stop offset="0.000" stop-color="#13273f"/><stop offset="0.000" stop-color="#132740"/><stop offset="0.007" stop-color="#132841"/><stop offset="0.029" stop-color="#142842"/><stop offset="0.060" stop-color="#142943"/><stop offset="0.099" stop-color="#142943"/><stop offset="0.147" stop-color="#142a44"/><stop offset="0.204" stop-color="#152a45"/><stop offset="0.267" stop-color="#152a46"/><stop offset="0.338" stop-color="#152c47"/><stop offset="0.415" stop-color="#162d49"/><stop offset="0.496" stop-color="#162e4b"/><stop offset="0.581" stop-color="#18304f"/><stop offset="0.667" stop-color="#193354"/><stop offset="0.754" stop-color="#1b375a"/><stop offset="0.839" stop-color="#1d3c62"/><stop offset="0.922" stop-color="#21436d"/><stop offset="1.000" stop-color="#264c7d"/></linearGradient>
<path d="M484.20,430.80 L484.57,431.75 L484.91,432.70 L485.21,433.65 L485.48,434.62 L485.71,435.58 L485.91,436.56 L486.07,437.53 L486.19,438.52 L486.27,439.50 L486.32,440.49 L486.33,441.48 L486.30,442.48 L486.23,443.48 L486.12,444.48 L485.97,445.49 L485.78,446.49 L485.55,447.50 L485.28,448.51 L484.97,449.52 L484.62,450.53 L484.22,451.54 L483.79,452.55 L483.31,453.56 L482.79,454.56 L482.22,455.57 L481.62,456.57 L480.97,457.57 L480.28,458.57 L479.54,459.57 L478.76,460.56 L477.94,461.55 L477.07,462.53 L476.16,463.51 L475.21,464.48 L474.21,465.45 L473.17,466.41 L472.09,467.36 L470.96,468.31 L469.79,469.24 L468.58,470.17 L467.32,471.09 L466.02,472.00 L464.68,472.91 L463.30,473.80 L461.87,474.68 L460.41,475.54 L458.90,476.40 L457.35,477.24 L455.76,478.08 L454.13,478.89 L452.46,479.70 L450.75,480.49 L449.00,481.26 L447.22,482.02 L445.40,482.76 L443.54,483.49 L441.65,484.20 L439.72,484.90 L437.75,485.57 L435.76,486.23 L433.73,486.87 L431.67,487.49 L429.58,488.09 L427.45,488.67 L425.30,489.23 L423.12,489.78 L420.92,490.30 L418.69,490.80 L416.43,491.27 L414.15,491.73 L411.84,492.17 L409.52,492.58 L407.17,492.97 L404.81,493.34 L402.43,493.68 L400.03,494.00 L397.61,494.30 L395.18,494.58 L392.74,494.83 L390.29,495.06 L387.82,495.27 L385.35,495.46 L382.86,495.62 L380.37,495.75 L377.87,495.87 L375.37,495.96 L372.87,496.03 L370.36,496.07 L367.85,496.10 L365.34,496.09 L362.83,496.07 L360.32,496.02 L357.81,495.95 L355.31,495.86 L352.81,495.74 L350.32,495.60 L347.84,495.44 L345.37,495.25 L342.90,495.04 L340.45,494.81 L338.01,494.56 L335.58,494.28 L333.16,493.98 L330.77,493.65 L328.39,493.31 L326.02,492.94 L323.68,492.54 L321.36,492.13 L319.05,491.69 L316.78,491.23 L314.52,490.75 L312.29,490.25 L312.75,519.85 L314.95,520.40 L317.18,520.93 L319.43,521.44 L321.70,521.93 L324.00,522.39 L326.31,522.83 L328.65,523.24 L331.01,523.63 L333.38,524.00 L335.77,524.34 L338.18,524.65 L340.60,524.94 L343.04,525.21 L345.48,525.44 L347.94,525.66 L350.41,525.84 L352.88,526.00 L355.37,526.14 L357.85,526.24 L360.35,526.32 L362.84,526.38 L365.34,526.41 L367.84,526.41 L370.34,526.38 L372.84,526.33 L375.33,526.25 L377.82,526.15 L380.30,526.02 L382.78,525.86 L385.25,525.67 L387.71,525.46 L390.15,525.23 L392.59,524.96 L395.01,524.68 L397.42,524.36 L399.81,524.03 L402.19,523.66 L404.55,523.28 L406.89,522.86 L409.21,522.43 L411.50,521.97 L413.78,521.49 L416.03,520.98 L418.26,520.45 L420.46,519.90 L422.64,519.32 L424.78,518.73 L426.90,518.11 L428.99,517.47 L431.06,516.82 L433.09,516.14 L435.08,515.44 L437.05,514.72 L438.98,513.99 L440.88,513.23 L442.74,512.46 L444.57,511.67 L446.36,510.86 L448.12,510.04 L449.84,509.20 L451.52,508.35 L453.16,507.48 L454.76,506.60 L456.33,505.70 L457.85,504.79 L459.34,503.87 L460.78,502.93 L462.19,501.99 L463.55,501.03 L464.87,500.06 L466.15,499.08 L467.39,498.09 L468.59,497.09 L469.74,496.09 L470.85,495.07 L471.92,494.05 L472.95,493.02 L473.93,491.98 L474.88,490.94 L475.78,489.89 L476.63,488.83 L477.45,487.77 L478.22,486.71 L478.95,485.64 L479.64,484.57 L480.28,483.50 L480.89,482.42 L481.45,481.34 L481.97,480.26 L482.45,479.18 L482.89,478.10 L483.28,477.01 L483.64,475.93 L483.95,474.85 L484.23,473.77 L484.46,472.69 L484.66,471.61 L484.81,470.53 L484.93,469.45 L485.01,468.38 L485.05,467.31 L485.05,466.25 L485.02,465.18 L484.94,464.13 L484.83,463.07 L484.69,462.02 L484.51,460.98 L484.29,459.94 L484.04,458.90 L483.75,457.87 L483.43,456.85 L483.07,455.83Z" fill="url(#g1_0_360)"/>
<line x1="484.20" y1="430.80" x2="483.07" y2="455.83" stroke="#12263e" stroke-width="0.7"/>
<linearGradient id="g1_1_360" gradientUnits="userSpaceOnUse" x1="311.28" y1="0" x2="253.24" y2="0"><stop offset="0.000" stop-color="#812424"/><stop offset="0.197" stop-color="#862526"/><stop offset="0.378" stop-color="#8c2627"/><stop offset="0.542" stop-color="#912828"/><stop offset="0.687" stop-color="#96292a"/><stop offset="0.812" stop-color="#9b2b2b"/><stop offset="0.916" stop-color="#a02c2d"/><stop offset="1.000" stop-color="#a52d2e"/></linearGradient>
<path d="M312.29,490.25 L310.10,489.73 L307.93,489.19 L305.79,488.63 L303.68,488.05 L301.59,487.45 L299.54,486.83 L297.52,486.19 L295.54,485.54 L293.58,484.86 L291.66,484.17 L289.78,483.46 L287.93,482.74 L286.12,481.99 L284.34,481.24 L282.60,480.47 L280.90,479.68 L279.24,478.88 L277.62,478.06 L276.03,477.23 L274.49,476.39 L272.99,475.54 L271.53,474.68 L270.11,473.80 L268.73,472.91 L267.39,472.01 L266.10,471.11 L264.84,470.19 L263.64,469.27 L262.47,468.33 L261.34,467.39 L260.26,466.44 L259.23,465.49 L258.23,464.52 L257.28,463.55 L256.37,462.58 L255.51,461.60 L254.69,460.62 L256.00,487.83 L256.81,488.89 L257.67,489.94 L258.57,490.99 L259.51,492.02 L260.49,493.06 L261.51,494.08 L262.58,495.10 L263.69,496.11 L264.84,497.12 L266.03,498.11 L267.27,499.10 L268.54,500.07 L269.86,501.04 L271.22,501.99 L272.62,502.93 L274.05,503.87 L275.53,504.78 L277.05,505.69 L278.61,506.58 L280.21,507.46 L281.84,508.33 L283.51,509.18 L285.23,510.02 L286.97,510.84 L288.76,511.64 L290.58,512.43 L292.43,513.20 L294.32,513.95 L296.24,514.68 L298.20,515.40 L300.19,516.09 L302.21,516.77 L304.26,517.43 L306.34,518.06 L308.45,518.68 L310.59,519.28 L312.75,519.85Z" fill="url(#g1_1_360)"/>
<line x1="312.29" y1="490.25" x2="312.75" y2="519.85" stroke="#812424" stroke-width="0.7"/>
<linearGradient id="g1_2_360" gradientUnits="userSpaceOnUse" x1="253.24" y1="0" x2="249.13" y2="0"><stop offset="0.000" stop-color="#85aa39"/><stop offset="0.549" stop-color="#85aa39"/><stop offset="1.000" stop-color="#85aa39"/></linearGradient>
<path d="M254.69,460.62 L253.89,459.61 L253.15,458.60 L252.44,457.59 L251.78,456.58 L251.17,455.56 L250.60,454.54 L251.94,481.31 L252.51,482.41 L253.12,483.50 L253.77,484.59 L254.47,485.67 L255.21,486.76 L256.00,487.83Z" fill="url(#g1_2_360)"/>
<line x1="254.69" y1="460.62" x2="256.00" y2="487.83" stroke="#85aa39" stroke-width="0.7"/>
<linearGradient id="g1_3_360" gradientUnits="userSpaceOnUse" x1="249.13" y1="0" x2="246.94" y2="0"><stop offset="0.000" stop-color="#6b4b93"/><stop offset="1.000" stop-color="#6b4b93"/><stop offset="1.000" stop-color="#6a4a92"/><stop offset="1.000" stop-color="#6a4a91"/><stop offset="1.000" stop-color="#694990"/></linearGradient>
<path d="M250.60,454.54 L250.06,453.49 L249.57,452.44 L249.12,451.39 L248.71,450.34 L248.36,449.29 L248.04,448.24 L247.77,447.20 L247.55,446.15 L247.37,445.10 L247.23,444.06 L247.13,443.02 L247.08,441.98 L247.07,440.95 L247.10,439.92 L247.17,438.89 L247.29,437.87 L247.44,436.85 L247.63,435.84 L247.86,434.83 L248.13,433.83 L248.44,432.84 L249.61,458.02 L249.31,459.09 L249.06,460.17 L248.84,461.25 L248.66,462.34 L248.52,463.43 L248.42,464.53 L248.36,465.63 L248.34,466.74 L248.37,467.85 L248.43,468.96 L248.53,470.08 L248.68,471.20 L248.87,472.32 L249.10,473.44 L249.37,474.57 L249.69,475.69 L250.05,476.82 L250.46,477.94 L250.90,479.07 L251.40,480.19 L251.94,481.31Z" fill="url(#g1_3_360)"/>
<line x1="250.60" y1="454.54" x2="251.94" y2="481.31" stroke="#6b4b93" stroke-width="0.7"/>
<linearGradient id="g1_4_360" gradientUnits="userSpaceOnUse" x1="246.94" y1="0" x2="254.65" y2="0"><stop offset="0.000" stop-color="#268cab"/><stop offset="0.241" stop-color="#258aa9"/><stop offset="0.577" stop-color="#2588a7"/><stop offset="1.000" stop-color="#2487a5"/></linearGradient>
<path d="M248.44,432.84 L248.78,431.88 L249.15,430.93 L249.55,429.98 L249.99,429.05 L250.46,428.11 L250.97,427.19 L251.50,426.27 L252.07,425.36 L252.67,424.46 L253.31,423.56 L253.97,422.68 L254.66,421.80 L255.39,420.93 L256.14,420.07 L257.03,444.28 L256.30,445.20 L255.60,446.14 L254.93,447.09 L254.29,448.05 L253.68,449.01 L253.09,449.98 L252.54,450.96 L252.03,451.95 L251.54,452.94 L251.09,453.95 L250.67,454.96 L250.28,455.97 L249.93,457.00 L249.61,458.02Z" fill="url(#g1_4_360)"/>
<line x1="248.44" y1="432.84" x2="249.61" y2="458.02" stroke="#268cab" stroke-width="0.7"/>
<linearGradient id="g1_7_0" gradientUnits="userSpaceOnUse" x1="478.75" y1="0" x2="485.70" y2="0"><stop offset="0.000" stop-color="#250909"/><stop offset="0.404" stop-color="#250909"/><stop offset="0.739" stop-color="#250909"/><stop offset="1.000" stop-color="#260909"/></linearGradient>
<path d="M477.26,420.07 L478.01,420.92 L478.72,421.78 L479.41,422.65 L480.06,423.52 L480.69,424.41 L481.29,425.30 L481.85,426.20 L482.39,427.11 L482.89,428.02 L483.36,428.94 L483.80,429.87 L484.20,430.80 L483.07,455.83 L482.68,454.83 L482.26,453.83 L481.81,452.84 L481.33,451.86 L480.81,450.88 L480.27,449.92 L479.69,448.95 L479.08,448.00 L478.45,447.06 L477.78,446.12 L477.09,445.19 L476.37,444.28Z" fill="url(#g1_7_0)"/>
<line x1="477.26" y1="420.07" x2="476.37" y2="444.28" stroke="#250909" stroke-width="0.7"/>
<path d="M366.70,430.80 L485.70,430.80 L486.07,431.76 L486.41,432.72 L486.71,433.69 L486.98,434.66 L487.21,435.64 L487.41,436.63 L487.57,437.62 L487.69,438.61 L487.77,439.61 L487.82,440.61 L487.82,441.62 L487.79,442.63 L487.72,443.64 L487.61,444.65 L487.46,445.67 L487.27,446.69 L487.04,447.71 L486.77,448.73 L486.45,449.75 L486.10,450.78 L485.70,451.80 L485.26,452.82 L484.78,453.84 L484.26,454.86 L483.69,455.88 L483.08,456.90 L482.43,457.92 L481.73,458.93 L480.99,459.94 L480.21,460.95 L479.38,461.95 L478.51,462.95 L477.60,463.94 L476.64,464.93 L475.64,465.91 L474.60,466.88 L473.51,467.85 L472.37,468.81 L471.20,469.77 L469.98,470.71 L468.71,471.65 L467.41,472.58 L466.06,473.50 L464.67,474.41 L463.23,475.30 L461.76,476.19 L460.24,477.07 L458.68,477.93 L457.08,478.78 L455.44,479.62 L453.76,480.44 L452.04,481.25 L450.28,482.05 L448.49,482.83 L446.65,483.59 L444.78,484.34 L442.87,485.07 L440.92,485.79 L438.94,486.49 L436.93,487.17 L434.88,487.83 L432.80,488.48 L430.68,489.10 L428.54,489.71 L426.36,490.29 L424.16,490.86 L421.93,491.41 L419.67,491.93 L417.38,492.43 L415.07,492.91 L412.73,493.37 L410.37,493.81 L407.99,494.23 L405.59,494.62 L403.17,494.99 L400.73,495.33 L398.27,495.65 L395.80,495.95 L393.31,496.22 L390.80,496.47 L388.29,496.70 L385.76,496.90 L383.23,497.07 L380.68,497.22 L378.13,497.35 L375.57,497.45 L373.01,497.52 L370.44,497.57 L367.87,497.60 L365.30,497.59 L362.74,497.57 L360.17,497.52 L357.61,497.44 L355.05,497.34 L352.50,497.21 L349.96,497.06 L347.42,496.88 L344.89,496.68 L342.38,496.45 L339.88,496.20 L337.39,495.92 L334.92,495.63 L332.46,495.30 L330.02,494.95 L327.60,494.58 L325.20,494.19 L322.82,493.77 L320.46,493.33 L318.13,492.87 L315.82,492.39 L313.54,491.89 L311.28,491.36Z" fill="#3d7bc9" stroke="#3d7bc9" stroke-width="0.5" stroke-linejoin="round"/>
<path d="M366.70,430.80 L311.28,491.36 L309.06,490.81 L306.86,490.25 L304.70,489.66 L302.57,489.06 L300.46,488.43 L298.39,487.79 L296.35,487.13 L294.35,486.45 L292.38,485.75 L290.44,485.04 L288.54,484.31 L286.68,483.56 L284.85,482.80 L283.06,482.02 L281.31,481.23 L279.60,480.42 L277.92,479.60 L276.29,478.77 L274.70,477.92 L273.15,477.06 L271.63,476.19 L270.16,475.30 L268.74,474.41 L267.35,473.50 L266.01,472.59 L264.70,471.67 L263.45,470.73 L262.23,469.79 L261.06,468.84 L259.93,467.88 L258.84,466.92 L257.80,465.95 L256.80,464.97 L255.84,463.98 L254.93,463.00 L254.06,462.00 L253.24,461.00Z" fill="#ca3839" stroke="#ca3839" stroke-width="0.5" stroke-linejoin="round"/>
<path d="M366.70,430.80 L253.24,461.00 L252.44,459.98 L251.69,458.96 L250.98,457.93 L250.32,456.90 L249.70,455.87 L249.13,454.84Z" fill="#94bd40" stroke="#94bd40" stroke-width="0.5" stroke-linejoin="round"/>
<path d="M366.70,430.80 L249.13,454.84 L248.59,453.78 L248.09,452.71 L247.64,451.65 L247.23,450.59 L246.87,449.52 L246.56,448.46 L246.29,447.40 L246.06,446.34 L245.88,445.28 L245.74,444.23 L245.64,443.17 L245.59,442.12 L245.58,441.08 L245.61,440.03 L245.68,438.99 L245.79,437.96 L245.94,436.93 L246.13,435.90 L246.36,434.88 L246.63,433.87 L246.94,432.86Z" fill="#7c57aa" stroke="#7c57aa" stroke-width="0.5" stroke-linejoin="round"/>
<path d="M366.70,430.80 L246.94,432.86 L247.28,431.89 L247.65,430.92 L248.06,429.96 L248.50,429.00 L248.97,428.06 L249.48,427.11 L250.02,426.18 L250.60,425.25 L251.20,424.34 L251.84,423.42 L252.51,422.52 L253.21,421.63 L253.94,420.74 L254.70,419.86 L255.49,418.99 L256.30,418.13 L257.15,417.28Z" fill="#2da5ca" stroke="#2da5ca" stroke-width="0.5" stroke-linejoin="round"/>
<path d="M366.70,430.80 L257.15,417.28 L258.03,416.44 L258.94,415.60 L259.87,414.77 L260.83,413.95 L261.82,413.14 L262.83,412.34 L263.87,411.55 L264.93,410.77 L266.02,410.00 L267.13,409.24 L268.26,408.50 L269.42,407.76 L270.60,407.03Z" fill="#f48b20" stroke="#f48b20" stroke-width="0.5" stroke-linejoin="round"/>
<path d="M366.70,430.80 L270.60,407.03 L271.78,406.33 L272.98,405.64 L274.20,404.95 L275.44,404.28 L276.70,403.62 L277.98,402.97 L279.28,402.33 L280.60,401.70 L281.93,401.09 L283.28,400.48 L284.65,399.88 L286.04,399.30 L287.44,398.73 L288.85,398.17 L290.29,397.62Z" fill="#1f4b80" stroke="#1f4b80" stroke-width="0.5" stroke-linejoin="round"/>
<path d="M366.70,430.80 L290.29,397.62 L291.73,397.08 L293.18,396.56 L294.65,396.04 L296.13,395.54 L297.63,395.05 L299.13,394.57 L300.65,394.11 L302.19,393.65 L303.73,393.21 L305.29,392.77 L306.86,392.35 L308.43,391.94 L310.02,391.55 L311.62,391.16 L313.23,390.78 L314.85,390.42 L316.47,390.07 L318.11,389.73 L319.75,389.40 L321.40,389.09 L323.06,388.78 L324.73,388.49 L326.40,388.21 L328.09,387.94 L329.77,387.68 L331.47,387.44 L333.17,387.20 L334.87,386.98 L336.58,386.77 L338.30,386.57 L340.02,386.38 L341.74,386.21 L343.47,386.05 L345.20,385.90 L346.94,385.76 L348.68,385.63 L350.42,385.51 L352.17,385.41 L353.92,385.32 L355.67,385.24 L357.42,385.17 L359.17,385.11 L360.92,385.07 L362.68,385.03 L364.43,385.01 L366.19,385.00 L367.95,385.00 L369.70,385.02 L371.46,385.04 L373.21,385.08 L374.97,385.13 L376.72,385.19 L378.47,385.27 L380.22,385.35 L381.96,385.45 L383.71,385.56 L385.45,385.68 L387.19,385.81 L388.92,385.96 L390.65,386.11 L392.38,386.28 L394.10,386.46 L395.82,386.65 L397.54,386.86 L399.24,387.07 L400.95,387.30 L402.64,387.54 L404.34,387.79 L406.02,388.05 L407.70,388.32 L409.37,388.61 L411.03,388.91 L412.69,389.22 L414.34,389.54 L415.98,389.87 L417.61,390.22 L419.23,390.57 L420.85,390.94 L422.45,391.32 L424.05,391.71 L425.63,392.11 L427.20,392.53 L428.77,392.95 L430.32,393.39 L431.86,393.84 L433.38,394.30 L434.90,394.77 L436.40,395.26 L437.89,395.75 L439.37,396.26 L440.83,396.78 L442.28,397.31 L443.71,397.85 L445.13,398.40 L446.54,398.96 L447.92,399.54 L449.29,400.12 L450.65,400.72 L451.99,401.32 L453.31,401.94 L454.61,402.57 L455.90,403.21 L457.17,403.86 L458.41,404.53 L459.64,405.20 L460.85,405.88 L462.04,406.57 L463.21,407.28 L464.35,407.99 L465.48,408.72 L466.58,409.45 L467.66,410.20 L468.72,410.95 L469.76,411.72 L470.77,412.49 L471.76,413.28 L472.72,414.07 L473.66,414.88 L474.57,415.69 L475.45,416.51 L476.31,417.34 L477.14,418.18 L477.95,419.03 L478.73,419.89 L479.47,420.76 L480.19,421.63 L480.88,422.51 L481.54,423.41 L482.17,424.30 L482.77,425.21 L483.34,426.12 L483.88,427.05 L484.38,427.97 L484.86,428.91 L485.29,429.85 L485.70,430.80Z" fill="#7b1f1e" stroke="#7b1f1e" stroke-width="0.5" stroke-linejoin="round"/>
<clipPath id="cp1"><path d="M485.70,430.80 L486.24,432.23 L486.71,433.67 L487.09,435.13 L487.40,436.59 L487.63,438.07 L487.77,439.56 L487.82,441.05 L487.80,442.55 L487.68,444.06 L487.47,445.58 L487.18,447.10 L486.80,448.62 L486.32,450.14 L485.75,451.67 L485.09,453.19 L484.34,454.72 L483.48,456.24 L482.54,457.75 L481.49,459.26 L480.36,460.76 L479.12,462.26 L477.79,463.74 L476.35,465.21 L474.83,466.67 L473.20,468.12 L471.48,469.54 L469.66,470.95 L467.74,472.35 L465.73,473.71 L463.63,475.06 L461.43,476.38 L459.14,477.68 L456.76,478.95 L454.28,480.19 L451.72,481.40 L449.08,482.57 L446.34,483.72 L443.53,484.82 L440.63,485.89 L437.66,486.92 L434.61,487.92 L431.49,488.87 L428.30,489.77 L425.04,490.64 L421.72,491.45 L418.34,492.23 L414.90,492.95 L411.40,493.62 L407.86,494.25 L404.27,494.82 L400.63,495.34 L396.96,495.81 L393.26,496.23 L389.52,496.59 L385.76,496.90 L381.97,497.15 L378.17,497.34 L374.35,497.49 L370.53,497.57 L366.70,497.60 L362.87,497.57 L359.05,497.49 L355.23,497.34 L351.43,497.15 L347.64,496.90 L343.88,496.59 L340.14,496.23 L336.44,495.81 L332.77,495.34 L329.13,494.82 L325.54,494.25 L322.00,493.62 L318.50,492.95 L315.06,492.23 L311.68,491.45 L308.36,490.64 L305.10,489.77 L301.91,488.87 L298.79,487.92 L295.74,486.92 L292.77,485.89 L289.87,484.82 L287.06,483.72 L284.32,482.57 L281.68,481.40 L279.12,480.19 L276.64,478.95 L274.26,477.68 L271.97,476.38 L269.77,475.06 L267.67,473.71 L265.66,472.35 L263.74,470.95 L261.92,469.54 L260.20,468.12 L258.57,466.67 L257.05,465.21 L255.61,463.74 L254.28,462.26 L253.04,460.76 L251.91,459.26 L250.86,457.75 L249.92,456.24 L249.06,454.72 L248.31,453.19 L247.65,451.67 L247.08,450.14 L246.60,448.62 L246.22,447.10 L245.93,445.58 L245.72,444.06 L245.60,442.55 L245.58,441.05 L245.63,439.56 L245.77,438.07 L246.00,436.59 L246.31,435.13 L246.69,433.67 L247.16,432.23 L247.70,430.80 L248.32,429.38 L249.01,427.98 L249.78,426.60 L250.61,425.23 L251.52,423.88 L252.50,422.54 L253.54,421.22 L254.65,419.92 L255.82,418.64 L257.05,417.38 L258.34,416.14 L259.69,414.92 L261.10,413.72 L262.56,412.55 L264.08,411.39 L265.65,410.26 L267.28,409.14 L268.95,408.06 L270.67,406.99 L272.43,405.95 L274.25,404.93 L276.10,403.93 L278.00,402.96 L279.94,402.02 L281.92,401.09 L283.93,400.19 L285.99,399.32 L288.08,398.47 L290.20,397.65 L292.36,396.85 L294.55,396.08 L296.77,395.33 L299.01,394.61 L301.29,393.92 L303.59,393.25 L305.92,392.60 L308.28,391.98 L310.65,391.39 L313.05,390.82 L315.47,390.28 L317.91,389.77 L320.37,389.28 L322.85,388.82 L325.34,388.38 L327.85,387.98 L330.38,387.59 L332.92,387.24 L335.47,386.91 L338.03,386.60 L340.60,386.32 L343.18,386.07 L345.78,385.85 L348.37,385.65 L350.98,385.48 L353.59,385.33 L356.21,385.21 L358.83,385.12 L361.45,385.05 L364.07,385.01 L366.70,385.00 L369.33,385.01 L371.95,385.05 L374.57,385.12 L377.19,385.21 L379.81,385.33 L382.42,385.48 L385.03,385.65 L387.62,385.85 L390.22,386.07 L392.80,386.32 L395.37,386.60 L397.93,386.91 L400.48,387.24 L403.02,387.59 L405.55,387.98 L408.06,388.38 L410.55,388.82 L413.03,389.28 L415.49,389.77 L417.93,390.28 L420.35,390.82 L422.75,391.39 L425.12,391.98 L427.48,392.60 L429.81,393.25 L432.11,393.92 L434.39,394.61 L436.63,395.33 L438.85,396.08 L441.04,396.85 L443.20,397.65 L445.32,398.47 L447.41,399.32 L449.47,400.19 L451.48,401.09 L453.46,402.02 L455.40,402.96 L457.30,403.93 L459.15,404.93 L460.97,405.95 L462.73,406.99 L464.45,408.06 L466.12,409.14 L467.75,410.26 L469.32,411.39 L470.84,412.55 L472.30,413.72 L473.71,414.92 L475.06,416.14 L476.35,417.38 L477.58,418.64 L478.75,419.92 L479.86,421.22 L480.90,422.54 L481.88,423.88 L482.79,425.23 L483.62,426.60 L484.39,427.98 L485.08,429.38Z"/></clipPath>
<path d="M485.70,430.80 L486.24,432.23 L486.71,433.67 L487.09,435.13 L487.40,436.59 L487.63,438.07 L487.77,439.56 L487.82,441.05 L487.80,442.55 L487.68,444.06 L487.47,445.58 L487.18,447.10 L486.80,448.62 L486.32,450.14 L485.75,451.67 L485.09,453.19 L484.34,454.72 L483.48,456.24 L482.54,457.75 L481.49,459.26 L480.36,460.76 L479.12,462.26 L477.79,463.74 L476.35,465.21 L474.83,466.67 L473.20,468.12 L471.48,469.54 L469.66,470.95 L467.74,472.35 L465.73,473.71 L463.63,475.06 L461.43,476.38 L459.14,477.68 L456.76,478.95 L454.28,480.19 L451.72,481.40 L449.08,482.57 L446.34,483.72 L443.53,484.82 L440.63,485.89 L437.66,486.92 L434.61,487.92 L431.49,488.87 L428.30,489.77 L425.04,490.64 L421.72,491.45 L418.34,492.23 L414.90,492.95 L411.40,493.62 L407.86,494.25 L404.27,494.82 L400.63,495.34 L396.96,495.81 L393.26,496.23 L389.52,496.59 L385.76,496.90 L381.97,497.15 L378.17,497.34 L374.35,497.49 L370.53,497.57 L366.70,497.60 L362.87,497.57 L359.05,497.49 L355.23,497.34 L351.43,497.15 L347.64,496.90 L343.88,496.59 L340.14,496.23 L336.44,495.81 L332.77,495.34 L329.13,494.82 L325.54,494.25 L322.00,493.62 L318.50,492.95 L315.06,492.23 L311.68,491.45 L308.36,490.64 L305.10,489.77 L301.91,488.87 L298.79,487.92 L295.74,486.92 L292.77,485.89 L289.87,484.82 L287.06,483.72 L284.32,482.57 L281.68,481.40 L279.12,480.19 L276.64,478.95 L274.26,477.68 L271.97,476.38 L269.77,475.06 L267.67,473.71 L265.66,472.35 L263.74,470.95 L261.92,469.54 L260.20,468.12 L258.57,466.67 L257.05,465.21 L255.61,463.74 L254.28,462.26 L253.04,460.76 L251.91,459.26 L250.86,457.75 L249.92,456.24 L249.06,454.72 L248.31,453.19 L247.65,451.67 L247.08,450.14 L246.60,448.62 L246.22,447.10 L245.93,445.58 L245.72,444.06 L245.60,442.55 L245.58,441.05 L245.63,439.56 L245.77,438.07 L246.00,436.59 L246.31,435.13 L246.69,433.67 L247.16,432.23 L247.70,430.80 L248.32,429.38 L249.01,427.98 L249.78,426.60 L250.61,425.23 L251.52,423.88 L252.50,422.54 L253.54,421.22 L254.65,419.92 L255.82,418.64 L257.05,417.38 L258.34,416.14 L259.69,414.92 L261.10,413.72 L262.56,412.55 L264.08,411.39 L265.65,410.26 L267.28,409.14 L268.95,408.06 L270.67,406.99 L272.43,405.95 L274.25,404.93 L276.10,403.93 L278.00,402.96 L279.94,402.02 L281.92,401.09 L283.93,400.19 L285.99,399.32 L288.08,398.47 L290.20,397.65 L292.36,396.85 L294.55,396.08 L296.77,395.33 L299.01,394.61 L301.29,393.92 L303.59,393.25 L305.92,392.60 L308.28,391.98 L310.65,391.39 L313.05,390.82 L315.47,390.28 L317.91,389.77 L320.37,389.28 L322.85,388.82 L325.34,388.38 L327.85,387.98 L330.38,387.59 L332.92,387.24 L335.47,386.91 L338.03,386.60 L340.60,386.32 L343.18,386.07 L345.78,385.85 L348.37,385.65 L350.98,385.48 L353.59,385.33 L356.21,385.21 L358.83,385.12 L361.45,385.05 L364.07,385.01 L366.70,385.00 L369.33,385.01 L371.95,385.05 L374.57,385.12 L377.19,385.21 L379.81,385.33 L382.42,385.48 L385.03,385.65 L387.62,385.85 L390.22,386.07 L392.80,386.32 L395.37,386.60 L397.93,386.91 L400.48,387.24 L403.02,387.59 L405.55,387.98 L408.06,388.38 L410.55,388.82 L413.03,389.28 L415.49,389.77 L417.93,390.28 L420.35,390.82 L422.75,391.39 L425.12,391.98 L427.48,392.60 L429.81,393.25 L432.11,393.92 L434.39,394.61 L436.63,395.33 L438.85,396.08 L441.04,396.85 L443.20,397.65 L445.32,398.47 L447.41,399.32 L449.47,400.19 L451.48,401.09 L453.46,402.02 L455.40,402.96 L457.30,403.93 L459.15,404.93 L460.97,405.95 L462.73,406.99 L464.45,408.06 L466.12,409.14 L467.75,410.26 L469.32,411.39 L470.84,412.55 L472.30,413.72 L473.71,414.92 L475.06,416.14 L476.35,417.38 L477.58,418.64 L478.75,419.92 L479.86,421.22 L480.90,422.54 L481.88,423.88 L482.79,425.23 L483.62,426.60 L484.39,427.98 L485.08,429.38Z" fill="url(#tg1)"/>
<clipPath id="cph"><rect x="0" y="0" width="767" height="430.8"/></clipPath>
<g clip-path="url(#cph)"><path d="M485.70,430.80 L486.24,432.23 L486.71,433.67 L487.09,435.13 L487.40,436.59 L487.63,438.07 L487.77,439.56 L487.82,441.05 L487.80,442.55 L487.68,444.06 L487.47,445.58 L487.18,447.10 L486.80,448.62 L486.32,450.14 L485.75,451.67 L485.09,453.19 L484.34,454.72 L483.48,456.24 L482.54,457.75 L481.49,459.26 L480.36,460.76 L479.12,462.26 L477.79,463.74 L476.35,465.21 L474.83,466.67 L473.20,468.12 L471.48,469.54 L469.66,470.95 L467.74,472.35 L465.73,473.71 L463.63,475.06 L461.43,476.38 L459.14,477.68 L456.76,478.95 L454.28,480.19 L451.72,481.40 L449.08,482.57 L446.34,483.72 L443.53,484.82 L440.63,485.89 L437.66,486.92 L434.61,487.92 L431.49,488.87 L428.30,489.77 L425.04,490.64 L421.72,491.45 L418.34,492.23 L414.90,492.95 L411.40,493.62 L407.86,494.25 L404.27,494.82 L400.63,495.34 L396.96,495.81 L393.26,496.23 L389.52,496.59 L385.76,496.90 L381.97,497.15 L378.17,497.34 L374.35,497.49 L370.53,497.57 L366.70,497.60 L362.87,497.57 L359.05,497.49 L355.23,497.34 L351.43,497.15 L347.64,496.90 L343.88,496.59 L340.14,496.23 L336.44,495.81 L332.77,495.34 L329.13,494.82 L325.54,494.25 L322.00,493.62 L318.50,492.95 L315.06,492.23 L311.68,491.45 L308.36,490.64 L305.10,489.77 L301.91,488.87 L298.79,487.92 L295.74,486.92 L292.77,485.89 L289.87,484.82 L287.06,483.72 L284.32,482.57 L281.68,481.40 L279.12,480.19 L276.64,478.95 L274.26,477.68 L271.97,476.38 L269.77,475.06 L267.67,473.71 L265.66,472.35 L263.74,470.95 L261.92,469.54 L260.20,468.12 L258.57,466.67 L257.05,465.21 L255.61,463.74 L254.28,462.26 L253.04,460.76 L251.91,459.26 L250.86,457.75 L249.92,456.24 L249.06,454.72 L248.31,453.19 L247.65,451.67 L247.08,450.14 L246.60,448.62 L246.22,447.10 L245.93,445.58 L245.72,444.06 L245.60,442.55 L245.58,441.05 L245.63,439.56 L245.77,438.07 L246.00,436.59 L246.31,435.13 L246.69,433.67 L247.16,432.23 L247.70,430.80 L248.32,429.38 L249.01,427.98 L249.78,426.60 L250.61,425.23 L251.52,423.88 L252.50,422.54 L253.54,421.22 L254.65,419.92 L255.82,418.64 L257.05,417.38 L258.34,416.14 L259.69,414.92 L261.10,413.72 L262.56,412.55 L264.08,411.39 L265.65,410.26 L267.28,409.14 L268.95,408.06 L270.67,406.99 L272.43,405.95 L274.25,404.93 L276.10,403.93 L278.00,402.96 L279.94,402.02 L281.92,401.09 L283.93,400.19 L285.99,399.32 L288.08,398.47 L290.20,397.65 L292.36,396.85 L294.55,396.08 L296.77,395.33 L299.01,394.61 L301.29,393.92 L303.59,393.25 L305.92,392.60 L308.28,391.98 L310.65,391.39 L313.05,390.82 L315.47,390.28 L317.91,389.77 L320.37,389.28 L322.85,388.82 L325.34,388.38 L327.85,387.98 L330.38,387.59 L332.92,387.24 L335.47,386.91 L338.03,386.60 L340.60,386.32 L343.18,386.07 L345.78,385.85 L348.37,385.65 L350.98,385.48 L353.59,385.33 L356.21,385.21 L358.83,385.12 L361.45,385.05 L364.07,385.01 L366.70,385.00 L369.33,385.01 L371.95,385.05 L374.57,385.12 L377.19,385.21 L379.81,385.33 L382.42,385.48 L385.03,385.65 L387.62,385.85 L390.22,386.07 L392.80,386.32 L395.37,386.60 L397.93,386.91 L400.48,387.24 L403.02,387.59 L405.55,387.98 L408.06,388.38 L410.55,388.82 L413.03,389.28 L415.49,389.77 L417.93,390.28 L420.35,390.82 L422.75,391.39 L425.12,391.98 L427.48,392.60 L429.81,393.25 L432.11,393.92 L434.39,394.61 L436.63,395.33 L438.85,396.08 L441.04,396.85 L443.20,397.65 L445.32,398.47 L447.41,399.32 L449.47,400.19 L451.48,401.09 L453.46,402.02 L455.40,402.96 L457.30,403.93 L459.15,404.93 L460.97,405.95 L462.73,406.99 L464.45,408.06 L466.12,409.14 L467.75,410.26 L469.32,411.39 L470.84,412.55 L472.30,413.72 L473.71,414.92 L475.06,416.14 L476.35,417.38 L477.58,418.64 L478.75,419.92 L479.86,421.22 L480.90,422.54 L481.88,423.88 L482.79,425.23 L483.62,426.60 L484.39,427.98 L485.08,429.38Z" fill="url(#hg1)"/></g>
<g clip-path="url(#cp1)"><path d="M485.70,430.80 L486.24,432.23 L486.71,433.67 L487.09,435.13 L487.40,436.59 L487.63,438.07 L487.77,439.56 L487.82,441.05 L487.80,442.55 L487.68,444.06 L487.47,445.58 L487.18,447.10 L486.80,448.62 L486.32,450.14 L485.75,451.67 L485.09,453.19 L484.34,454.72 L483.48,456.24 L482.54,457.75 L481.49,459.26 L480.36,460.76 L479.12,462.26 L477.79,463.74 L476.35,465.21 L474.83,466.67 L473.20,468.12 L471.48,469.54 L469.66,470.95 L467.74,472.35 L465.73,473.71 L463.63,475.06 L461.43,476.38 L459.14,477.68 L456.76,478.95 L454.28,480.19 L451.72,481.40 L449.08,482.57 L446.34,483.72 L443.53,484.82 L440.63,485.89 L437.66,486.92 L434.61,487.92 L431.49,488.87 L428.30,489.77 L425.04,490.64 L421.72,491.45 L418.34,492.23 L414.90,492.95 L411.40,493.62 L407.86,494.25 L404.27,494.82 L400.63,495.34 L396.96,495.81 L393.26,496.23 L389.52,496.59 L385.76,496.90 L381.97,497.15 L378.17,497.34 L374.35,497.49 L370.53,497.57 L366.70,497.60 L362.87,497.57 L359.05,497.49 L355.23,497.34 L351.43,497.15 L347.64,496.90 L343.88,496.59 L340.14,496.23 L336.44,495.81 L332.77,495.34 L329.13,494.82 L325.54,494.25 L322.00,493.62 L318.50,492.95 L315.06,492.23 L311.68,491.45 L308.36,490.64 L305.10,489.77 L301.91,488.87 L298.79,487.92 L295.74,486.92 L292.77,485.89 L289.87,484.82 L287.06,483.72 L284.32,482.57 L281.68,481.40 L279.12,480.19 L276.64,478.95 L274.26,477.68 L271.97,476.38 L269.77,475.06 L267.67,473.71 L265.66,472.35 L263.74,470.95 L261.92,469.54 L260.20,468.12 L258.57,466.67 L257.05,465.21 L255.61,463.74 L254.28,462.26 L253.04,460.76 L251.91,459.26 L250.86,457.75 L249.92,456.24 L249.06,454.72 L248.31,453.19 L247.65,451.67 L247.08,450.14 L246.60,448.62 L246.22,447.10 L245.93,445.58 L245.72,444.06 L245.60,442.55 L245.58,441.05 L245.63,439.56 L245.77,438.07 L246.00,436.59 L246.31,435.13 L246.69,433.67 L247.16,432.23 L247.70,430.80 L248.32,429.38 L249.01,427.98 L249.78,426.60 L250.61,425.23 L251.52,423.88 L252.50,422.54 L253.54,421.22 L254.65,419.92 L255.82,418.64 L257.05,417.38 L258.34,416.14 L259.69,414.92 L261.10,413.72 L262.56,412.55 L264.08,411.39 L265.65,410.26 L267.28,409.14 L268.95,408.06 L270.67,406.99 L272.43,405.95 L274.25,404.93 L276.10,403.93 L278.00,402.96 L279.94,402.02 L281.92,401.09 L283.93,400.19 L285.99,399.32 L288.08,398.47 L290.20,397.65 L292.36,396.85 L294.55,396.08 L296.77,395.33 L299.01,394.61 L301.29,393.92 L303.59,393.25 L305.92,392.60 L308.28,391.98 L310.65,391.39 L313.05,390.82 L315.47,390.28 L317.91,389.77 L320.37,389.28 L322.85,388.82 L325.34,388.38 L327.85,387.98 L330.38,387.59 L332.92,387.24 L335.47,386.91 L338.03,386.60 L340.60,386.32 L343.18,386.07 L345.78,385.85 L348.37,385.65 L350.98,385.48 L353.59,385.33 L356.21,385.21 L358.83,385.12 L361.45,385.05 L364.07,385.01 L366.70,385.00 L369.33,385.01 L371.95,385.05 L374.57,385.12 L377.19,385.21 L379.81,385.33 L382.42,385.48 L385.03,385.65 L387.62,385.85 L390.22,386.07 L392.80,386.32 L395.37,386.60 L397.93,386.91 L400.48,387.24 L403.02,387.59 L405.55,387.98 L408.06,388.38 L410.55,388.82 L413.03,389.28 L415.49,389.77 L417.93,390.28 L420.35,390.82 L422.75,391.39 L425.12,391.98 L427.48,392.60 L429.81,393.25 L432.11,393.92 L434.39,394.61 L436.63,395.33 L438.85,396.08 L441.04,396.85 L443.20,397.65 L445.32,398.47 L447.41,399.32 L449.47,400.19 L451.48,401.09 L453.46,402.02 L455.40,402.96 L457.30,403.93 L459.15,404.93 L460.97,405.95 L462.73,406.99 L464.45,408.06 L466.12,409.14 L467.75,410.26 L469.32,411.39 L470.84,412.55 L472.30,413.72 L473.71,414.92 L475.06,416.14 L476.35,417.38 L477.58,418.64 L478.75,419.92 L479.86,421.22 L480.90,422.54 L481.88,423.88 L482.79,425.23 L483.62,426.60 L484.39,427.98 L485.08,429.38Z" fill="none" stroke="#000" stroke-opacity="0.11" stroke-width="5" filter="url(#blur)"/></g>
<path d="M481.56,423.63 L482.57,425.10 L483.50,426.58 L484.34,428.09 L485.10,429.62 L485.76,431.16 L486.34,432.72 L486.83,434.29 L487.22,435.88 L487.52,437.48 L487.71,439.09 L487.81,440.72 L487.81,442.35 L487.71,443.99 L487.50,445.64 L487.18,447.30 L486.76,448.95 L486.23,450.61 L485.59,452.28 L484.83,453.94 L483.97,455.59 L482.99,457.25 L481.90,458.89 L480.69,460.53 L479.37,462.16 L477.94,463.78 L476.39,465.38 L474.72,466.97 L472.94,468.54 L471.04,470.09 L469.03,471.62 L466.91,473.13 L464.67,474.61 L462.32,476.06 L459.86,477.48 L457.29,478.87 L454.62,480.22 L451.84,481.54 L448.96,482.83 L445.97,484.07 L442.89,485.26 L439.72,486.42 L436.45,487.53 L433.10,488.59 L429.66,489.60 L426.14,490.55 L422.54,491.46 L418.87,492.31 L415.13,493.10 L411.32,493.84 L407.46,494.51 L403.54,495.13 L399.58,495.68 L395.57,496.18 L391.52,496.60 L387.43,496.97 L383.32,497.27 L379.18,497.50 L375.03,497.66 L370.87,497.76 L366.70,497.80 L362.53,497.76 L358.37,497.66 L354.22,497.50 L350.08,497.27 L345.97,496.97 L341.88,496.60 L337.83,496.18 L333.82,495.68 L329.86,495.13 L325.94,494.51 L322.08,493.84 L318.27,493.10 L314.53,492.31 L310.86,491.46 L307.26,490.55 L303.74,489.60 L300.30,488.59 L296.95,487.53 L293.68,486.42 L290.51,485.26 L287.43,484.07 L284.44,482.83 L281.56,481.54 L278.78,480.22 L276.11,478.87 L273.54,477.48 L271.08,476.06 L268.73,474.61 L266.49,473.13 L264.37,471.62 L262.36,470.09 L260.46,468.54 L258.68,466.97 L257.01,465.38 L255.46,463.78 L254.03,462.16 L252.71,460.53 L251.50,458.89 L250.41,457.25 L249.43,455.59 L248.57,453.94 L247.81,452.28 L247.17,450.61 L246.64,448.95 L246.22,447.30 L245.90,445.64 L245.69,443.99 L245.59,442.35 L245.59,440.72 L245.69,439.09 L245.88,437.48 L246.18,435.88 L246.57,434.29 L247.06,432.72 L247.64,431.16 L248.30,429.62 L249.06,428.09 L249.90,426.58 L250.83,425.10 L251.84,423.63" fill="none" stroke="#fff" stroke-opacity="0.22" stroke-width="0.9"/>
<path d="M166.5,358.3 L171.2,358.6 L279.9,402.0" fill="none" stroke="#868686" stroke-width="0.9"/>
<path d="M154.8,394.0 L162.0,394.6 L263.3,411.9" fill="none" stroke="#868686" stroke-width="0.9"/>
<path d="M154.3,443.0 L162.0,442.5 L250.9,424.8" fill="none" stroke="#868686" stroke-width="0.9"/>
<path d="M176.0,523.1 L181.7,522.6 L248.5,469.5" fill="none" stroke="#868686" stroke-width="0.9"/>
<path d="M253.9,550.8 L253.9,484.6" fill="none" stroke="#868686" stroke-width="0.9"/>
<path d="M297.0,562.0 L292.9,561.3 L277.8,506.1" fill="none" stroke="#868686" stroke-width="0.9"/>
<path d="M502.6,535.3 L495.3,534.8 L442.7,512.5" fill="none" stroke="#868686" stroke-width="0.9"/>
<path d="M404.9,371.3 L404.9,387.8" fill="none" stroke="#868686" stroke-width="0.9"/>
<text class="lb" x="127.4" y="355.1" textLength="36.6" lengthAdjust="spacingAndGlyphs">Δελφών</text>
<text class="lb" x="134.7" y="367.6" textLength="21.7" lengthAdjust="spacingAndGlyphs">4,2%</text>
<text class="lb" x="81.8" y="394.0" textLength="70.7" lengthAdjust="spacingAndGlyphs">Λευκού Πύργου</text>
<text class="lb" x="106.8" y="406.5" textLength="21.4" lengthAdjust="spacingAndGlyphs">3,7%</text>
<text class="lb" x="63.6" y="443.0" textLength="88.6" lengthAdjust="spacingAndGlyphs">Ηρακλείου (Κρήτης)</text>
<text class="lb" x="97.0" y="455.5" textLength="21.3" lengthAdjust="spacingAndGlyphs">4,8%</text>
<text class="lb" x="64.3" y="523.1" textLength="109.0" lengthAdjust="spacingAndGlyphs">Παλάτι Ιπποτών (Ρόδου)</text>
<text class="lb" x="108.7" y="535.6" textLength="20.8" lengthAdjust="spacingAndGlyphs">6,1%</text>
<text class="lb" x="193.6" y="562.0" textLength="83.7" lengthAdjust="spacingAndGlyphs">Αρχαίας Ολυμπίας</text>
<text class="lb" x="224.0" y="574.6" textLength="21.4" lengthAdjust="spacingAndGlyphs">1,7%</text>
<text class="lb" x="299.7" y="562.0" textLength="93.9" lengthAdjust="spacingAndGlyphs">Εθνικό Αρχαιολογικό</text>
<text class="lb" x="333.2" y="574.6" textLength="26.5" lengthAdjust="spacingAndGlyphs">10,3%</text>
<text class="lb" x="504.4" y="536.1" textLength="92.6" lengthAdjust="spacingAndGlyphs">Μουσείο Ακρόπολης</text>
<text class="lb" x="537.0" y="548.6" textLength="26.1" lengthAdjust="spacingAndGlyphs">31,3%</text>
<text class="lb" x="380.9" y="354.9" textLength="79.5" lengthAdjust="spacingAndGlyphs">Λοιπών μουσείων</text>
<text class="lb" x="406.9" y="367.6" textLength="26.9" lengthAdjust="spacingAndGlyphs">37,9%</text>
<rect x="49.6" y="614.5" width="618.9" height="255.8" rx="13" ry="13" fill="#fff" stroke="#b2b2b2" stroke-width="1.35"/>
<path d="M477.26,744.13 L478.11,747.03 L478.66,749.97 L478.90,752.95 L478.83,755.95 L478.42,758.98 L477.69,762.02 L476.61,765.06 L475.19,768.10 L473.42,771.11 L471.30,774.10 L468.82,777.05 L465.98,779.95 L462.80,782.78 L459.26,785.54 L455.37,788.21 L451.15,790.78 L446.60,793.24 L441.74,795.58 L436.57,797.78 L431.12,799.83 L425.40,801.72 L419.43,803.45 L413.23,804.99 L406.83,806.35 L400.25,807.52 L393.53,808.48 L386.68,809.23 L379.74,809.78 L372.73,810.10 L365.70,810.21 L358.67,810.10 L351.66,809.78 L344.72,809.23 L337.87,808.48 L331.15,807.52 L324.57,806.35 L318.17,804.99 L311.97,803.45 L306.00,801.72 L300.28,799.83 L294.83,797.78 L289.66,795.58 L284.80,793.24 L280.25,790.78 L276.03,788.21 L272.14,785.54 L268.60,782.78 L265.42,779.95 L262.58,777.05 L260.10,774.10 L257.98,771.11 L256.21,768.10 L254.79,765.06 L253.71,762.02 L252.98,758.98 L252.57,755.95 L252.50,752.95 L252.74,749.97 L253.29,747.03 L254.14,744.13 L253.03,718.60 L254.49,715.96 L256.22,713.38 L258.22,710.87 L260.46,708.42 L262.94,706.05 L265.64,703.76 L268.55,701.54 L271.67,699.42 L274.98,697.38 L278.47,695.43 L282.12,693.57 L285.94,691.80 L289.90,690.13 L294.00,688.55 L298.22,687.07 L302.57,685.69 L307.02,684.41 L311.57,683.23 L316.21,682.15 L320.94,681.17 L325.73,680.30 L330.59,679.52 L335.50,678.85 L340.46,678.28 L345.47,677.82 L350.50,677.46 L355.55,677.20 L360.62,677.04 L365.70,676.99 L370.78,677.04 L375.85,677.20 L380.90,677.46 L385.93,677.82 L390.94,678.28 L395.90,678.85 L400.81,679.52 L405.67,680.30 L410.46,681.17 L415.19,682.15 L419.83,683.23 L424.38,684.41 L428.83,685.69 L433.18,687.07 L437.40,688.55 L441.50,690.13 L445.46,691.80 L449.28,693.57 L452.93,695.43 L456.42,697.38 L459.73,699.42 L462.85,701.54 L465.76,703.76 L468.46,706.05 L470.94,708.42 L473.18,710.87 L475.18,713.38 L476.91,715.96 L478.37,718.60Z" fill="#000" fill-opacity="0.25" filter="url(#blur2)"/>
<linearGradient id="g2_2_360" gradientUnits="userSpaceOnUse" x1="470.18" y1="0" x2="467.27" y2="0"><stop offset="0.000" stop-color="#42541c"/><stop offset="0.000" stop-color="#43551d"/><stop offset="0.000" stop-color="#44561d"/><stop offset="0.000" stop-color="#45581e"/><stop offset="0.000" stop-color="#465a1e"/><stop offset="0.000" stop-color="#485c1f"/><stop offset="0.000" stop-color="#495e1f"/><stop offset="0.000" stop-color="#4b6020"/><stop offset="1.000" stop-color="#4c6221"/></linearGradient>
<path d="M468.69,709.01 L469.40,709.85 L470.07,710.69 L470.72,711.54 L471.34,712.40 L471.92,713.27 L472.48,714.14 L473.00,715.03 L473.49,715.91 L473.96,716.81 L474.38,717.71 L474.78,718.62 L475.14,719.53 L475.46,720.45 L475.76,721.37 L476.01,722.30 L476.24,723.24 L476.42,724.18 L476.57,725.12 L476.69,726.07 L476.76,727.02 L476.80,727.97 L476.81,728.93 L476.77,729.89 L476.70,730.86 L476.58,731.82 L476.43,732.79 L476.24,733.76 L476.01,734.73 L475.74,735.70 L475.43,736.67 L475.08,737.64 L474.69,738.61 L474.26,739.58 L473.79,740.55 L473.27,741.52 L472.72,742.49 L472.12,743.45 L471.48,744.41 L470.80,745.37 L470.08,746.33 L469.31,747.28 L468.51,748.22 L467.66,749.16 L466.77,750.10 L465.83,751.03 L464.95,775.99 L465.87,774.99 L466.75,773.99 L467.59,772.99 L468.39,771.98 L469.15,770.97 L469.87,769.95 L470.54,768.93 L471.18,767.90 L471.77,766.87 L472.33,765.84 L472.84,764.81 L473.31,763.78 L473.74,762.74 L474.14,761.71 L474.49,760.67 L474.80,759.63 L475.07,758.60 L475.31,757.56 L475.50,756.53 L475.66,755.50 L475.78,754.47 L475.86,753.44 L475.90,752.42 L475.91,751.39 L475.88,750.38 L475.81,749.36 L475.71,748.35 L475.57,747.34 L475.39,746.34 L475.18,745.34 L474.94,744.35 L474.66,743.36 L474.35,742.38 L474.00,741.40 L473.62,740.43 L473.21,739.47 L472.76,738.51 L472.29,737.56 L471.78,736.62 L471.24,735.68 L470.67,734.75 L470.07,733.83 L469.44,732.92 L468.78,732.02 L468.10,731.12Z" fill="url(#g2_2_360)"/>
<line x1="468.69" y1="709.01" x2="468.10" y2="731.12" stroke="#42541c" stroke-width="0.7"/>
<linearGradient id="g2_3_360" gradientUnits="userSpaceOnUse" x1="467.27" y1="0" x2="455.27" y2="0"><stop offset="0.000" stop-color="#37274c"/><stop offset="0.455" stop-color="#38274d"/><stop offset="1.000" stop-color="#38274e"/></linearGradient>
<path d="M465.83,751.03 L464.84,751.98 L463.79,752.91 L462.71,753.85 L461.58,754.77 L460.41,755.68 L459.19,756.59 L457.93,757.48 L456.63,758.37 L455.29,759.25 L453.90,760.11 L453.16,785.70 L454.53,784.77 L455.85,783.83 L457.14,782.88 L458.38,781.93 L459.58,780.96 L460.74,779.98 L461.86,778.99 L462.93,778.00 L463.96,777.00 L464.95,775.99Z" fill="url(#g2_3_360)"/>
<line x1="465.83" y1="751.03" x2="464.95" y2="775.99" stroke="#37274c" stroke-width="0.7"/>
<linearGradient id="g2_4_360" gradientUnits="userSpaceOnUse" x1="455.27" y1="0" x2="426.39" y2="0"><stop offset="0.000" stop-color="#124554"/><stop offset="0.292" stop-color="#134656"/><stop offset="0.627" stop-color="#134858"/><stop offset="1.000" stop-color="#144a5a"/></linearGradient>
<path d="M453.90,760.11 L452.51,760.94 L451.08,761.76 L449.61,762.57 L448.10,763.37 L446.56,764.15 L444.98,764.92 L443.36,765.67 L441.70,766.42 L440.01,767.14 L438.28,767.85 L436.52,768.55 L434.72,769.23 L432.89,769.90 L431.02,770.54 L429.13,771.17 L427.20,771.79 L425.25,772.38 L424.89,798.93 L426.82,798.28 L428.72,797.62 L430.59,796.93 L432.43,796.23 L434.24,795.51 L436.01,794.77 L437.75,794.02 L439.45,793.25 L441.12,792.47 L442.76,791.67 L444.35,790.86 L445.92,790.03 L447.44,789.19 L448.93,788.33 L450.38,787.47 L451.79,786.59 L453.16,785.70Z" fill="url(#g2_4_360)"/>
<line x1="453.90" y1="760.11" x2="453.16" y2="785.70" stroke="#124554" stroke-width="0.7"/>
<linearGradient id="g2_5_360" gradientUnits="userSpaceOnUse" x1="426.39" y1="0" x2="412.34" y2="0"><stop offset="0.000" stop-color="#975613"/><stop offset="0.489" stop-color="#995714"/><stop offset="1.000" stop-color="#9b5814"/></linearGradient>
<path d="M425.25,772.38 L423.02,773.03 L420.75,773.65 L418.45,774.25 L416.12,774.82 L413.76,775.37 L411.36,775.89 L411.15,802.78 L413.52,802.20 L415.86,801.60 L418.17,800.97 L420.45,800.31 L422.68,799.63 L424.89,798.93Z" fill="url(#g2_5_360)"/>
<line x1="425.25" y1="772.38" x2="424.89" y2="798.93" stroke="#975613" stroke-width="0.7"/>
<linearGradient id="g2_6_360" gradientUnits="userSpaceOnUse" x1="412.34" y1="0" x2="383.79" y2="0"><stop offset="0.000" stop-color="#0e243d"/><stop offset="0.322" stop-color="#0f253f"/><stop offset="0.656" stop-color="#0f2640"/><stop offset="1.000" stop-color="#102742"/></linearGradient>
<path d="M411.36,775.89 L409.13,776.35 L406.87,776.79 L404.60,777.20 L402.30,777.59 L399.98,777.96 L397.65,778.31 L395.29,778.63 L392.92,778.93 L390.54,779.21 L388.14,779.47 L385.73,779.70 L383.31,779.90 L383.28,807.27 L385.70,807.04 L388.10,806.77 L390.48,806.49 L392.86,806.17 L395.21,805.83 L397.55,805.47 L399.87,805.08 L402.17,804.67 L404.45,804.23 L406.71,803.77 L408.94,803.29 L411.15,802.78Z" fill="url(#g2_6_360)"/>
<line x1="411.36" y1="775.89" x2="411.15" y2="802.78" stroke="#0e243d" stroke-width="0.7"/>
<linearGradient id="g2_7_360" gradientUnits="userSpaceOnUse" x1="383.79" y1="0" x2="328.22" y2="0"><stop offset="0.000" stop-color="#471111"/><stop offset="0.251" stop-color="#491212"/><stop offset="0.504" stop-color="#4c1312"/><stop offset="0.755" stop-color="#4e1313"/><stop offset="1.000" stop-color="#511413"/></linearGradient>
<path d="M383.31,779.90 L380.95,780.08 L378.59,780.24 L376.22,780.37 L373.84,780.49 L371.46,780.58 L369.08,780.65 L366.69,780.69 L364.30,780.72 L361.91,780.72 L359.52,780.70 L357.13,780.66 L354.74,780.60 L352.36,780.52 L349.98,780.41 L347.61,780.29 L345.25,780.14 L342.89,779.97 L340.54,779.77 L338.20,779.56 L335.87,779.32 L333.55,779.06 L331.25,778.78 L328.96,778.48 L329.05,805.66 L331.32,806.00 L333.61,806.32 L335.92,806.61 L338.24,806.88 L340.57,807.12 L342.91,807.34 L345.26,807.54 L347.62,807.71 L349.99,807.86 L352.37,807.98 L354.75,808.07 L357.13,808.14 L359.52,808.19 L361.91,808.21 L364.30,808.21 L366.69,808.18 L369.07,808.12 L371.46,808.04 L373.84,807.94 L376.21,807.81 L378.58,807.65 L380.93,807.48 L383.28,807.27Z" fill="url(#g2_7_360)"/>
<line x1="383.31" y1="779.90" x2="383.28" y2="807.27" stroke="#471111" stroke-width="0.7"/>
<linearGradient id="g2_8_360" gradientUnits="userSpaceOnUse" x1="328.22" y1="0" x2="323.33" y2="0"><stop offset="0.000" stop-color="#557224"/><stop offset="1.000" stop-color="#557224"/></linearGradient>
<path d="M328.96,778.48 L326.55,778.14 L324.16,777.77 L324.28,804.86 L326.65,805.27 L329.05,805.66Z" fill="url(#g2_8_360)"/>
<line x1="328.96" y1="778.48" x2="329.05" y2="805.66" stroke="#557224" stroke-width="0.7"/>
<linearGradient id="g2_9_360" gradientUnits="userSpaceOnUse" x1="323.33" y1="0" x2="310.00" y2="0"><stop offset="0.000" stop-color="#3c275b"/><stop offset="0.508" stop-color="#3c275b"/><stop offset="1.000" stop-color="#3c275b"/></linearGradient>
<path d="M324.16,777.77 L321.92,777.40 L319.69,777.00 L317.49,776.59 L315.31,776.16 L313.15,775.70 L311.02,775.23 L311.26,802.05 L313.37,802.57 L315.51,803.07 L317.67,803.55 L319.85,804.01 L322.05,804.45 L324.28,804.86Z" fill="url(#g2_9_360)"/>
<line x1="324.16" y1="777.77" x2="324.28" y2="804.86" stroke="#3c275b" stroke-width="0.7"/>
<linearGradient id="g2_10_360" gradientUnits="userSpaceOnUse" x1="310.00" y1="0" x2="302.58" y2="0"><stop offset="0.000" stop-color="#166176"/><stop offset="1.000" stop-color="#166176"/></linearGradient>
<path d="M311.02,775.23 L308.54,774.64 L306.10,774.03 L303.69,773.39 L304.01,800.03 L306.39,800.73 L308.80,801.40 L311.26,802.05Z" fill="url(#g2_10_360)"/>
<line x1="311.02" y1="775.23" x2="311.26" y2="802.05" stroke="#166176" stroke-width="0.7"/>
<linearGradient id="g2_11_360" gradientUnits="userSpaceOnUse" x1="302.58" y1="0" x2="278.58" y2="0"><stop offset="0.000" stop-color="#b04e0a"/><stop offset="0.360" stop-color="#b04e0a"/><stop offset="0.694" stop-color="#b04e0a"/><stop offset="1.000" stop-color="#b04e0a"/></linearGradient>
<path d="M303.69,773.39 L301.67,772.82 L299.67,772.24 L297.71,771.63 L295.77,771.01 L293.87,770.37 L292.00,769.71 L290.17,769.04 L288.36,768.35 L286.60,767.64 L284.87,766.92 L283.17,766.18 L281.51,765.43 L279.89,764.66 L280.52,790.58 L282.12,791.41 L283.75,792.22 L285.43,793.01 L287.13,793.79 L288.88,794.55 L290.65,795.30 L292.47,796.03 L294.31,796.74 L296.19,797.44 L298.10,798.12 L300.04,798.77 L302.01,799.41 L304.01,800.03Z" fill="url(#g2_11_360)"/>
<line x1="303.69" y1="773.39" x2="304.01" y2="800.03" stroke="#b04e0a" stroke-width="0.7"/>
<linearGradient id="g2_12_360" gradientUnits="userSpaceOnUse" x1="278.58" y1="0" x2="255.22" y2="0"><stop offset="0.000" stop-color="#4c76ae"/><stop offset="0.355" stop-color="#4b75ac"/><stop offset="0.657" stop-color="#4b74ab"/><stop offset="0.905" stop-color="#4a73a9"/><stop offset="1.000" stop-color="#4972a8"/><stop offset="1.000" stop-color="#4971a6"/><stop offset="1.000" stop-color="#4870a5"/><stop offset="1.000" stop-color="#476ea3"/><stop offset="1.000" stop-color="#466da1"/><stop offset="1.000" stop-color="#456c9f"/><stop offset="1.000" stop-color="#456b9e"/><stop offset="1.000" stop-color="#446a9c"/></linearGradient>
<path d="M279.89,764.66 L278.34,763.90 L276.83,763.12 L275.36,762.34 L273.92,761.54 L272.52,760.73 L271.16,759.90 L269.84,759.07 L268.56,758.23 L267.31,757.38 L266.11,756.52 L264.95,755.65 L263.82,754.77 L262.74,753.88 L261.69,752.99 L260.69,752.09 L259.73,751.18 L258.80,750.27 L257.92,749.35 L257.08,748.43 L256.28,747.50 L255.52,746.57 L254.80,745.63 L254.12,744.69 L253.48,743.75 L252.88,742.81 L252.32,741.86 L251.80,740.91 L251.32,739.96 L250.88,739.00 L250.48,738.05 L250.12,737.10 L249.79,736.14 L249.51,735.19 L249.27,734.24 L249.06,733.28 L248.89,732.33 L248.76,731.38 L248.67,730.44 L248.61,729.49 L248.59,728.55 L248.61,727.61 L248.66,726.67 L248.75,725.74 L248.87,724.81 L249.03,723.89 L249.22,722.97 L249.45,722.05 L249.71,721.14 L250.01,720.23 L250.34,719.33 L250.70,718.44 L251.09,717.55 L251.52,716.66 L251.97,715.78 L252.46,714.91 L252.98,714.05 L253.53,713.19 L254.11,712.34 L254.72,711.50 L255.35,710.66 L256.02,709.83 L256.71,709.01 L257.30,731.12 L256.63,732.00 L255.98,732.89 L255.36,733.78 L254.77,734.69 L254.21,735.60 L253.68,736.52 L253.18,737.44 L252.70,738.37 L252.26,739.31 L251.85,740.26 L251.47,741.21 L251.13,742.17 L250.81,743.13 L250.53,744.10 L250.28,745.07 L250.06,746.05 L249.88,747.03 L249.73,748.02 L249.62,749.01 L249.54,750.01 L249.50,751.01 L249.49,752.01 L249.52,753.01 L249.58,754.02 L249.68,755.03 L249.82,756.04 L249.99,757.06 L250.20,758.07 L250.45,759.09 L250.74,760.11 L251.06,761.12 L251.42,762.14 L251.83,763.16 L252.27,764.17 L252.74,765.19 L253.26,766.20 L253.82,767.21 L254.42,768.22 L255.05,769.23 L255.73,770.23 L256.44,771.23 L257.20,772.22 L257.99,773.21 L258.82,774.20 L259.70,775.18 L260.61,776.15 L261.56,777.12 L262.56,778.08 L263.59,779.03 L264.66,779.98 L265.77,780.92 L266.92,781.85 L268.11,782.77 L269.34,783.68 L270.60,784.58 L271.91,785.48 L273.25,786.36 L274.63,787.23 L276.05,788.08 L277.50,788.93 L278.99,789.76 L280.52,790.58Z" fill="url(#g2_12_360)"/>
<line x1="279.89" y1="764.66" x2="280.52" y2="790.58" stroke="#4c76ae" stroke-width="0.7"/>
<path d="M362.70,719.30 L362.70,674.99 L364.49,675.00 L366.27,675.02 L368.06,675.05 L369.84,675.09 L371.63,675.15 L373.41,675.22 L375.19,675.31 L376.97,675.40 L378.74,675.51 L380.51,675.63 L382.28,675.77 L384.04,675.91 L385.80,676.07 L387.56,676.25Z" fill="#3d7bc9" stroke="#3d7bc9" stroke-width="0.5" stroke-linejoin="round"/>
<path d="M362.70,719.30 L387.56,676.25 L389.30,676.43 L391.03,676.63 L392.76,676.84 L394.49,677.06 L396.20,677.29 L397.92,677.54 L399.62,677.80 L401.32,678.07 L403.01,678.36 L404.69,678.65 L406.36,678.96Z" fill="#ca3839" stroke="#ca3839" stroke-width="0.5" stroke-linejoin="round"/>
<path d="M362.70,719.30 L406.36,678.96 L407.96,679.27 L409.55,679.59 L411.13,679.92 L412.71,680.27 L414.27,680.62 L415.82,680.99 L417.37,681.37 L418.90,681.75 L420.43,682.15 L421.94,682.57 L423.44,682.99 L424.93,683.42 L426.41,683.87 L427.87,684.32 L429.33,684.79 L430.77,685.27 L432.19,685.76 L433.61,686.26 L435.01,686.77 L436.39,687.30 L437.76,687.83 L439.11,688.37 L440.45,688.93 L441.77,689.50 L443.08,690.07 L444.37,690.66 L445.64,691.26 L446.89,691.87 L448.13,692.49 L449.35,693.11 L450.55,693.75 L451.73,694.40 L452.89,695.06 L454.03,695.74 L455.15,696.42 L456.25,697.11 L457.32,697.81 L458.38,698.52 L459.41,699.23 L460.42,699.96 L461.41,700.70 L462.38,701.45 L463.32,702.21 L464.24,702.97 L465.13,703.75 L465.99,704.53 L466.84,705.32 L467.65,706.13 L468.44,706.93 L469.20,707.75 L469.94,708.58 L470.64,709.41 L471.32,710.25 L471.97,711.10 L472.59,711.96 L473.18,712.82 L473.74,713.69 L474.27,714.57 L474.77,715.46 L475.24,716.35 L475.68,717.25 L476.08,718.15 L476.46,719.06 L476.80,719.97 L477.10,720.89 L477.37,721.82 L477.61,722.75 L477.82,723.68 L477.99,724.62 L478.12,725.57 L478.22,726.52 L478.28,727.47 L478.30,728.42 L478.29,729.38 L478.25,730.34 L478.16,731.30 L478.04,732.27 L477.87,733.23 L477.67,734.20 L477.44,735.17 L477.16,736.14 L476.84,737.11 L476.49,738.08 L476.09,739.05 L475.66,740.02 L475.18,740.99 L474.66,741.96 L474.11,742.92 L473.51,743.89 L472.87,744.85 L472.20,745.81 L471.48,746.76 L470.72,747.71 L469.92,748.66 L469.07,749.60 L468.19,750.54 L467.27,751.47Z" fill="#94bd40" stroke="#94bd40" stroke-width="0.5" stroke-linejoin="round"/>
<path d="M362.70,719.30 L467.27,751.47 L466.26,752.43 L465.22,753.39 L464.13,754.33 L462.99,755.27 L461.81,756.21 L460.59,757.13 L459.32,758.04 L458.02,758.95 L456.66,759.84 L455.27,760.72Z" fill="#7c57aa" stroke="#7c57aa" stroke-width="0.5" stroke-linejoin="round"/>
<path d="M362.70,719.30 L455.27,760.72 L453.87,761.57 L452.43,762.41 L450.95,763.24 L449.44,764.05 L447.88,764.86 L446.29,765.65 L444.66,766.42 L442.99,767.18 L441.28,767.93 L439.54,768.67 L437.76,769.38 L435.95,770.09 L434.10,770.77 L432.22,771.44 L430.31,772.10 L428.37,772.73 L426.39,773.35Z" fill="#2da5ca" stroke="#2da5ca" stroke-width="0.5" stroke-linejoin="round"/>
<path d="M362.70,719.30 L426.39,773.35 L424.14,774.03 L421.85,774.67 L419.52,775.30 L417.16,775.90 L414.77,776.48 L412.34,777.03Z" fill="#f48b20" stroke="#f48b20" stroke-width="0.5" stroke-linejoin="round"/>
<path d="M362.70,719.30 L412.34,777.03 L410.08,777.51 L407.79,777.98 L405.48,778.42 L403.14,778.84 L400.79,779.23 L398.41,779.60 L396.01,779.95 L393.60,780.27 L391.17,780.57 L388.72,780.85 L386.26,781.10 L383.79,781.32Z" fill="#1f4b80" stroke="#1f4b80" stroke-width="0.5" stroke-linejoin="round"/>
<path d="M362.70,719.30 L383.79,781.32 L381.39,781.52 L378.97,781.69 L376.54,781.84 L374.11,781.96 L371.67,782.06 L369.23,782.14 L366.79,782.19 L364.34,782.22 L361.89,782.22 L359.44,782.20 L357.00,782.16 L354.55,782.09 L352.11,782.00 L349.68,781.88 L347.25,781.74 L344.83,781.58 L342.42,781.39 L340.02,781.18 L337.63,780.95 L335.26,780.69 L332.90,780.41 L330.55,780.11 L328.22,779.78Z" fill="#7b1f1e" stroke="#7b1f1e" stroke-width="0.5" stroke-linejoin="round"/>
<path d="M362.70,719.30 L328.22,779.78 L325.77,779.41 L323.33,779.02Z" fill="#5f7f28" stroke="#5f7f28" stroke-width="0.5" stroke-linejoin="round"/>
<path d="M362.70,719.30 L323.33,779.02 L321.05,778.62 L318.80,778.21 L316.56,777.77 L314.35,777.31 L312.16,776.83 L310.00,776.33Z" fill="#4a3070" stroke="#4a3070" stroke-width="0.5" stroke-linejoin="round"/>
<path d="M362.70,719.30 L310.00,776.33 L307.49,775.71 L305.02,775.07 L302.58,774.40Z" fill="#1a7088" stroke="#1a7088" stroke-width="0.5" stroke-linejoin="round"/>
<path d="M362.70,719.30 L302.58,774.40 L300.54,773.81 L298.52,773.20 L296.54,772.57 L294.59,771.93 L292.67,771.27 L290.78,770.58 L288.93,769.89 L287.11,769.17 L285.33,768.45 L283.59,767.70 L281.88,766.94 L280.21,766.17 L278.58,765.38Z" fill="#c4570c" stroke="#c4570c" stroke-width="0.5" stroke-linejoin="round"/>
<path d="M362.70,719.30 L278.58,765.38 L277.02,764.60 L275.50,763.81 L274.02,763.00 L272.58,762.19 L271.17,761.36 L269.80,760.52 L268.48,759.67 L267.19,758.81 L265.94,757.95 L264.73,757.07 L263.56,756.19 L262.43,755.29 L261.34,754.39 L260.29,753.49 L259.28,752.57 L258.32,751.65 L257.39,750.73 L256.50,749.79 L255.66,748.86 L254.85,747.92 L254.09,746.97 L253.36,746.02 L252.68,745.07 L252.04,744.12 L251.43,743.16 L250.87,742.20 L250.35,741.24 L249.86,740.27 L249.42,739.31 L249.02,738.34 L248.65,737.38 L248.33,736.41 L248.04,735.45 L247.79,734.48 L247.58,733.52 L247.41,732.56 L247.27,731.60 L247.18,730.64 L247.12,729.69 L247.09,728.73 L247.11,727.78 L247.16,726.84 L247.24,725.89 L247.36,724.95 L247.52,724.02 L247.71,723.08 L247.93,722.16 L248.19,721.23 L248.49,720.32 L248.81,719.41 L249.17,718.50 L249.56,717.60 L249.98,716.70 L250.43,715.81 L250.92,714.93 L251.43,714.06 L251.98,713.19 L252.56,712.32 L253.16,711.47 L253.79,710.62 L254.46,709.78 L255.15,708.95 L255.86,708.12 L256.61,707.31 L257.38,706.50 L258.18,705.70 L259.01,704.90 L259.86,704.12 L260.73,703.35 L261.63,702.58 L262.55,701.82 L263.50,701.07 L264.47,700.34 L265.47,699.61 L266.48,698.89 L267.52,698.17 L268.58,697.47 L269.66,696.78 L270.77,696.10 L271.89,695.43 L273.03,694.77 L274.20,694.11 L275.38,693.47 L276.58,692.84 L277.80,692.22 L279.04,691.61 L280.29,691.01 L281.56,690.42 L282.85,689.84 L284.16,689.27 L285.48,688.71 L286.82,688.16 L288.17,687.62 L289.54,687.10 L290.92,686.58 L292.31,686.08 L293.72,685.58 L295.15,685.10 L296.58,684.63 L298.03,684.16 L299.50,683.71 L300.97,683.28 L302.46,682.85 L303.95,682.43 L305.46,682.03 L306.98,681.63 L308.51,681.25 L310.05,680.88 L311.60,680.51 L313.15,680.17 L314.72,679.83 L316.30,679.50 L317.88,679.19 L319.47,678.88 L321.07,678.59 L322.68,678.31 L324.30,678.04 L325.92,677.78 L327.55,677.53 L329.18,677.30 L330.82,677.07 L332.47,676.86 L334.12,676.66 L335.77,676.47 L337.43,676.29 L339.10,676.12 L340.77,675.97 L342.44,675.82 L344.12,675.69 L345.79,675.57 L347.48,675.46 L349.16,675.36 L350.85,675.27 L352.54,675.20 L354.23,675.14 L355.92,675.08 L357.62,675.04 L359.31,675.01 L361.00,675.00 L362.70,674.99Z" fill="#5b8dd0" stroke="#5b8dd0" stroke-width="0.5" stroke-linejoin="round"/>
<clipPath id="cp2"><path d="M476.55,719.30 L477.03,720.67 L477.44,722.05 L477.77,723.44 L478.02,724.84 L478.19,726.24 L478.29,727.66 L478.30,729.09 L478.23,730.52 L478.08,731.95 L477.84,733.39 L477.52,734.83 L477.12,736.28 L476.62,737.73 L476.04,739.17 L475.37,740.62 L474.61,742.06 L473.76,743.49 L472.82,744.93 L471.79,746.35 L470.67,747.77 L469.46,749.18 L468.15,750.58 L466.76,751.97 L465.27,753.34 L463.70,754.70 L462.03,756.04 L460.27,757.36 L458.43,758.67 L456.49,759.95 L454.47,761.21 L452.36,762.45 L450.16,763.67 L447.88,764.85 L445.52,766.01 L443.08,767.14 L440.55,768.24 L437.95,769.31 L435.27,770.34 L432.52,771.34 L429.70,772.30 L426.80,773.23 L423.84,774.11 L420.82,774.95 L417.74,775.76 L414.59,776.52 L411.39,777.24 L408.14,777.91 L404.84,778.53 L401.49,779.11 L398.10,779.65 L394.68,780.13 L391.21,780.57 L387.72,780.95 L384.20,781.29 L380.65,781.57 L377.08,781.81 L373.50,781.99 L369.91,782.12 L366.31,782.20 L362.70,782.22 L359.09,782.20 L355.49,782.12 L351.90,781.99 L348.32,781.81 L344.75,781.57 L341.20,781.29 L337.68,780.95 L334.19,780.57 L330.72,780.13 L327.30,779.65 L323.91,779.11 L320.56,778.53 L317.26,777.91 L314.01,777.24 L310.81,776.52 L307.66,775.76 L304.58,774.95 L301.56,774.11 L298.60,773.23 L295.70,772.30 L292.88,771.34 L290.13,770.34 L287.45,769.31 L284.85,768.24 L282.32,767.14 L279.88,766.01 L277.52,764.85 L275.24,763.67 L273.04,762.45 L270.93,761.21 L268.91,759.95 L266.97,758.67 L265.13,757.36 L263.37,756.04 L261.70,754.70 L260.13,753.34 L258.64,751.97 L257.25,750.58 L255.94,749.18 L254.73,747.77 L253.61,746.35 L252.58,744.93 L251.64,743.49 L250.79,742.06 L250.03,740.62 L249.36,739.17 L248.78,737.73 L248.28,736.28 L247.88,734.83 L247.56,733.39 L247.32,731.95 L247.17,730.52 L247.10,729.09 L247.11,727.66 L247.21,726.24 L247.38,724.84 L247.63,723.44 L247.96,722.05 L248.37,720.67 L248.85,719.30 L249.40,717.94 L250.03,716.60 L250.73,715.27 L251.49,713.96 L252.33,712.66 L253.22,711.38 L254.19,710.11 L255.22,708.87 L256.31,707.63 L257.46,706.42 L258.67,705.23 L259.94,704.05 L261.26,702.89 L262.64,701.76 L264.07,700.64 L265.55,699.54 L267.09,698.47 L268.67,697.42 L270.30,696.39 L271.98,695.38 L273.70,694.39 L275.47,693.43 L277.27,692.48 L279.12,691.57 L281.01,690.67 L282.94,689.80 L284.90,688.95 L286.90,688.13 L288.93,687.33 L291.00,686.55 L293.10,685.80 L295.22,685.07 L297.38,684.37 L299.57,683.69 L301.78,683.04 L304.02,682.41 L306.29,681.81 L308.57,681.23 L310.88,680.68 L313.21,680.15 L315.57,679.65 L317.94,679.17 L320.33,678.72 L322.73,678.30 L325.15,677.90 L327.59,677.52 L330.04,677.18 L332.50,676.85 L334.98,676.56 L337.46,676.28 L339.96,676.04 L342.47,675.82 L344.98,675.63 L347.50,675.46 L350.02,675.32 L352.55,675.20 L355.09,675.11 L357.62,675.04 L360.16,675.00 L362.70,674.99 L365.24,675.00 L367.78,675.04 L370.31,675.11 L372.85,675.20 L375.38,675.32 L377.90,675.46 L380.42,675.63 L382.93,675.82 L385.44,676.04 L387.94,676.28 L390.42,676.56 L392.90,676.85 L395.36,677.18 L397.81,677.52 L400.25,677.90 L402.67,678.30 L405.07,678.72 L407.46,679.17 L409.83,679.65 L412.19,680.15 L414.52,680.68 L416.83,681.23 L419.11,681.81 L421.38,682.41 L423.62,683.04 L425.83,683.69 L428.02,684.37 L430.18,685.07 L432.30,685.80 L434.40,686.55 L436.47,687.33 L438.50,688.13 L440.50,688.95 L442.46,689.80 L444.39,690.67 L446.28,691.57 L448.13,692.48 L449.93,693.43 L451.70,694.39 L453.42,695.38 L455.10,696.39 L456.73,697.42 L458.31,698.47 L459.85,699.54 L461.33,700.64 L462.76,701.76 L464.14,702.89 L465.46,704.05 L466.73,705.23 L467.94,706.42 L469.09,707.63 L470.18,708.87 L471.21,710.11 L472.18,711.38 L473.07,712.66 L473.91,713.96 L474.67,715.27 L475.37,716.60 L476.00,717.94Z"/></clipPath>
<path d="M476.55,719.30 L477.03,720.67 L477.44,722.05 L477.77,723.44 L478.02,724.84 L478.19,726.24 L478.29,727.66 L478.30,729.09 L478.23,730.52 L478.08,731.95 L477.84,733.39 L477.52,734.83 L477.12,736.28 L476.62,737.73 L476.04,739.17 L475.37,740.62 L474.61,742.06 L473.76,743.49 L472.82,744.93 L471.79,746.35 L470.67,747.77 L469.46,749.18 L468.15,750.58 L466.76,751.97 L465.27,753.34 L463.70,754.70 L462.03,756.04 L460.27,757.36 L458.43,758.67 L456.49,759.95 L454.47,761.21 L452.36,762.45 L450.16,763.67 L447.88,764.85 L445.52,766.01 L443.08,767.14 L440.55,768.24 L437.95,769.31 L435.27,770.34 L432.52,771.34 L429.70,772.30 L426.80,773.23 L423.84,774.11 L420.82,774.95 L417.74,775.76 L414.59,776.52 L411.39,777.24 L408.14,777.91 L404.84,778.53 L401.49,779.11 L398.10,779.65 L394.68,780.13 L391.21,780.57 L387.72,780.95 L384.20,781.29 L380.65,781.57 L377.08,781.81 L373.50,781.99 L369.91,782.12 L366.31,782.20 L362.70,782.22 L359.09,782.20 L355.49,782.12 L351.90,781.99 L348.32,781.81 L344.75,781.57 L341.20,781.29 L337.68,780.95 L334.19,780.57 L330.72,780.13 L327.30,779.65 L323.91,779.11 L320.56,778.53 L317.26,777.91 L314.01,777.24 L310.81,776.52 L307.66,775.76 L304.58,774.95 L301.56,774.11 L298.60,773.23 L295.70,772.30 L292.88,771.34 L290.13,770.34 L287.45,769.31 L284.85,768.24 L282.32,767.14 L279.88,766.01 L277.52,764.85 L275.24,763.67 L273.04,762.45 L270.93,761.21 L268.91,759.95 L266.97,758.67 L265.13,757.36 L263.37,756.04 L261.70,754.70 L260.13,753.34 L258.64,751.97 L257.25,750.58 L255.94,749.18 L254.73,747.77 L253.61,746.35 L252.58,744.93 L251.64,743.49 L250.79,742.06 L250.03,740.62 L249.36,739.17 L248.78,737.73 L248.28,736.28 L247.88,734.83 L247.56,733.39 L247.32,731.95 L247.17,730.52 L247.10,729.09 L247.11,727.66 L247.21,726.24 L247.38,724.84 L247.63,723.44 L247.96,722.05 L248.37,720.67 L248.85,719.30 L249.40,717.94 L250.03,716.60 L250.73,715.27 L251.49,713.96 L252.33,712.66 L253.22,711.38 L254.19,710.11 L255.22,708.87 L256.31,707.63 L257.46,706.42 L258.67,705.23 L259.94,704.05 L261.26,702.89 L262.64,701.76 L264.07,700.64 L265.55,699.54 L267.09,698.47 L268.67,697.42 L270.30,696.39 L271.98,695.38 L273.70,694.39 L275.47,693.43 L277.27,692.48 L279.12,691.57 L281.01,690.67 L282.94,689.80 L284.90,688.95 L286.90,688.13 L288.93,687.33 L291.00,686.55 L293.10,685.80 L295.22,685.07 L297.38,684.37 L299.57,683.69 L301.78,683.04 L304.02,682.41 L306.29,681.81 L308.57,681.23 L310.88,680.68 L313.21,680.15 L315.57,679.65 L317.94,679.17 L320.33,678.72 L322.73,678.30 L325.15,677.90 L327.59,677.52 L330.04,677.18 L332.50,676.85 L334.98,676.56 L337.46,676.28 L339.96,676.04 L342.47,675.82 L344.98,675.63 L347.50,675.46 L350.02,675.32 L352.55,675.20 L355.09,675.11 L357.62,675.04 L360.16,675.00 L362.70,674.99 L365.24,675.00 L367.78,675.04 L370.31,675.11 L372.85,675.20 L375.38,675.32 L377.90,675.46 L380.42,675.63 L382.93,675.82 L385.44,676.04 L387.94,676.28 L390.42,676.56 L392.90,676.85 L395.36,677.18 L397.81,677.52 L400.25,677.90 L402.67,678.30 L405.07,678.72 L407.46,679.17 L409.83,679.65 L412.19,680.15 L414.52,680.68 L416.83,681.23 L419.11,681.81 L421.38,682.41 L423.62,683.04 L425.83,683.69 L428.02,684.37 L430.18,685.07 L432.30,685.80 L434.40,686.55 L436.47,687.33 L438.50,688.13 L440.50,688.95 L442.46,689.80 L444.39,690.67 L446.28,691.57 L448.13,692.48 L449.93,693.43 L451.70,694.39 L453.42,695.38 L455.10,696.39 L456.73,697.42 L458.31,698.47 L459.85,699.54 L461.33,700.64 L462.76,701.76 L464.14,702.89 L465.46,704.05 L466.73,705.23 L467.94,706.42 L469.09,707.63 L470.18,708.87 L471.21,710.11 L472.18,711.38 L473.07,712.66 L473.91,713.96 L474.67,715.27 L475.37,716.60 L476.00,717.94Z" fill="url(#tg2)"/>
<g clip-path="url(#cp2)"><path d="M476.55,719.30 L477.03,720.67 L477.44,722.05 L477.77,723.44 L478.02,724.84 L478.19,726.24 L478.29,727.66 L478.30,729.09 L478.23,730.52 L478.08,731.95 L477.84,733.39 L477.52,734.83 L477.12,736.28 L476.62,737.73 L476.04,739.17 L475.37,740.62 L474.61,742.06 L473.76,743.49 L472.82,744.93 L471.79,746.35 L470.67,747.77 L469.46,749.18 L468.15,750.58 L466.76,751.97 L465.27,753.34 L463.70,754.70 L462.03,756.04 L460.27,757.36 L458.43,758.67 L456.49,759.95 L454.47,761.21 L452.36,762.45 L450.16,763.67 L447.88,764.85 L445.52,766.01 L443.08,767.14 L440.55,768.24 L437.95,769.31 L435.27,770.34 L432.52,771.34 L429.70,772.30 L426.80,773.23 L423.84,774.11 L420.82,774.95 L417.74,775.76 L414.59,776.52 L411.39,777.24 L408.14,777.91 L404.84,778.53 L401.49,779.11 L398.10,779.65 L394.68,780.13 L391.21,780.57 L387.72,780.95 L384.20,781.29 L380.65,781.57 L377.08,781.81 L373.50,781.99 L369.91,782.12 L366.31,782.20 L362.70,782.22 L359.09,782.20 L355.49,782.12 L351.90,781.99 L348.32,781.81 L344.75,781.57 L341.20,781.29 L337.68,780.95 L334.19,780.57 L330.72,780.13 L327.30,779.65 L323.91,779.11 L320.56,778.53 L317.26,777.91 L314.01,777.24 L310.81,776.52 L307.66,775.76 L304.58,774.95 L301.56,774.11 L298.60,773.23 L295.70,772.30 L292.88,771.34 L290.13,770.34 L287.45,769.31 L284.85,768.24 L282.32,767.14 L279.88,766.01 L277.52,764.85 L275.24,763.67 L273.04,762.45 L270.93,761.21 L268.91,759.95 L266.97,758.67 L265.13,757.36 L263.37,756.04 L261.70,754.70 L260.13,753.34 L258.64,751.97 L257.25,750.58 L255.94,749.18 L254.73,747.77 L253.61,746.35 L252.58,744.93 L251.64,743.49 L250.79,742.06 L250.03,740.62 L249.36,739.17 L248.78,737.73 L248.28,736.28 L247.88,734.83 L247.56,733.39 L247.32,731.95 L247.17,730.52 L247.10,729.09 L247.11,727.66 L247.21,726.24 L247.38,724.84 L247.63,723.44 L247.96,722.05 L248.37,720.67 L248.85,719.30 L249.40,717.94 L250.03,716.60 L250.73,715.27 L251.49,713.96 L252.33,712.66 L253.22,711.38 L254.19,710.11 L255.22,708.87 L256.31,707.63 L257.46,706.42 L258.67,705.23 L259.94,704.05 L261.26,702.89 L262.64,701.76 L264.07,700.64 L265.55,699.54 L267.09,698.47 L268.67,697.42 L270.30,696.39 L271.98,695.38 L273.70,694.39 L275.47,693.43 L277.27,692.48 L279.12,691.57 L281.01,690.67 L282.94,689.80 L284.90,688.95 L286.90,688.13 L288.93,687.33 L291.00,686.55 L293.10,685.80 L295.22,685.07 L297.38,684.37 L299.57,683.69 L301.78,683.04 L304.02,682.41 L306.29,681.81 L308.57,681.23 L310.88,680.68 L313.21,680.15 L315.57,679.65 L317.94,679.17 L320.33,678.72 L322.73,678.30 L325.15,677.90 L327.59,677.52 L330.04,677.18 L332.50,676.85 L334.98,676.56 L337.46,676.28 L339.96,676.04 L342.47,675.82 L344.98,675.63 L347.50,675.46 L350.02,675.32 L352.55,675.20 L355.09,675.11 L357.62,675.04 L360.16,675.00 L362.70,674.99 L365.24,675.00 L367.78,675.04 L370.31,675.11 L372.85,675.20 L375.38,675.32 L377.90,675.46 L380.42,675.63 L382.93,675.82 L385.44,676.04 L387.94,676.28 L390.42,676.56 L392.90,676.85 L395.36,677.18 L397.81,677.52 L400.25,677.90 L402.67,678.30 L405.07,678.72 L407.46,679.17 L409.83,679.65 L412.19,680.15 L414.52,680.68 L416.83,681.23 L419.11,681.81 L421.38,682.41 L423.62,683.04 L425.83,683.69 L428.02,684.37 L430.18,685.07 L432.30,685.80 L434.40,686.55 L436.47,687.33 L438.50,688.13 L440.50,688.95 L442.46,689.80 L444.39,690.67 L446.28,691.57 L448.13,692.48 L449.93,693.43 L451.70,694.39 L453.42,695.38 L455.10,696.39 L456.73,697.42 L458.31,698.47 L459.85,699.54 L461.33,700.64 L462.76,701.76 L464.14,702.89 L465.46,704.05 L466.73,705.23 L467.94,706.42 L469.09,707.63 L470.18,708.87 L471.21,710.11 L472.18,711.38 L473.07,712.66 L473.91,713.96 L474.67,715.27 L475.37,716.60 L476.00,717.94Z" fill="none" stroke="#000" stroke-opacity="0.11" stroke-width="5" filter="url(#blur)"/></g>
<path d="M472.78,712.43 L473.71,713.84 L474.56,715.27 L475.33,716.71 L476.01,718.17 L476.61,719.65 L477.12,721.14 L477.54,722.65 L477.87,724.16 L478.11,725.69 L478.26,727.23 L478.31,728.78 L478.26,730.33 L478.11,731.90 L477.87,733.46 L477.52,735.03 L477.08,736.61 L476.52,738.18 L475.87,739.76 L475.11,741.33 L474.24,742.90 L473.27,744.46 L472.19,746.02 L471.00,747.56 L469.71,749.10 L468.30,750.62 L466.79,752.13 L465.17,753.63 L463.44,755.11 L461.61,756.56 L459.67,758.00 L457.62,759.41 L455.47,760.80 L453.21,762.16 L450.86,763.49 L448.40,764.79 L445.84,766.06 L443.19,767.29 L440.44,768.49 L437.60,769.65 L434.67,770.77 L431.65,771.84 L428.55,772.88 L425.37,773.86 L422.11,774.80 L418.77,775.70 L415.36,776.54 L411.89,777.33 L408.36,778.06 L404.76,778.75 L401.12,779.38 L397.42,779.95 L393.68,780.46 L389.90,780.92 L386.08,781.32 L382.23,781.65 L378.35,781.93 L374.46,782.15 L370.55,782.30 L366.63,782.39 L362.70,782.42 L358.77,782.39 L354.85,782.30 L350.94,782.15 L347.05,781.93 L343.17,781.65 L339.32,781.32 L335.50,780.92 L331.72,780.46 L327.98,779.95 L324.28,779.38 L320.64,778.75 L317.04,778.06 L313.51,777.33 L310.04,776.54 L306.63,775.70 L303.29,774.80 L300.03,773.86 L296.85,772.88 L293.75,771.84 L290.73,770.77 L287.80,769.65 L284.96,768.49 L282.21,767.29 L279.56,766.06 L277.00,764.79 L274.54,763.49 L272.19,762.16 L269.93,760.80 L267.78,759.41 L265.73,758.00 L263.79,756.56 L261.96,755.11 L260.23,753.63 L258.61,752.13 L257.10,750.62 L255.69,749.10 L254.40,747.56 L253.21,746.02 L252.13,744.46 L251.16,742.90 L250.29,741.33 L249.53,739.76 L248.88,738.18 L248.32,736.61 L247.88,735.03 L247.53,733.46 L247.29,731.90 L247.14,730.33 L247.09,728.78 L247.14,727.23 L247.29,725.69 L247.53,724.16 L247.86,722.65 L248.28,721.14 L248.79,719.65 L249.39,718.17 L250.07,716.71 L250.84,715.27 L251.69,713.84 L252.62,712.43" fill="none" stroke="#fff" stroke-opacity="0.22" stroke-width="0.9"/>
<path d="M376.2,643.3 L376.2,675.3" fill="none" stroke="#868686" stroke-width="0.9"/>
<path d="M469.6,642.8 L462.6,643.3 L397.1,677.4" fill="none" stroke="#868686" stroke-width="0.9"/>
<path d="M525.1,698.8 L518.3,699.3 L468.0,706.5" fill="none" stroke="#868686" stroke-width="0.9"/>
<path d="M619.5,773.3 L610.8,774.0 L459.6,781.0" fill="none" stroke="#868686" stroke-width="0.9"/>
<path d="M567.1,816.6 L559.0,816.0 L440.3,792.9" fill="none" stroke="#868686" stroke-width="0.9"/>
<path d="M478.2,832.2 L471.7,831.5 L418.2,801.0" fill="none" stroke="#868686" stroke-width="0.9"/>
<path d="M398.7,836.0 L398.7,805.5" fill="none" stroke="#868686" stroke-width="0.9"/>
<path d="M216.4,849.5 L223.4,849.0 L355.9,808.1" fill="none" stroke="#868686" stroke-width="0.9"/>
<path d="M157.0,818.7 L164.5,818.2 L326.7,805.3" fill="none" stroke="#868686" stroke-width="0.9"/>
<path d="M155.1,779.6 L162.0,779.6 L317.7,803.6" fill="none" stroke="#868686" stroke-width="0.9"/>
<path d="M116.0,745.6 L122.5,746.1 L307.6,801.1" fill="none" stroke="#868686" stroke-width="0.9"/>
<path d="M127.7,713.8 L134.7,714.3 L291.6,795.7" fill="none" stroke="#868686" stroke-width="0.9"/>
<path d="M220.8,663.0 L227.3,663.5 L261.6,702.6" fill="none" stroke="#868686" stroke-width="0.9"/>
<text class="lb" x="351.0" y="626.9" textLength="48.5" lengthAdjust="spacingAndGlyphs">Επιδαύρου</text>
<text class="lb" x="364.8" y="639.9" textLength="21.4" lengthAdjust="spacingAndGlyphs">4,1%</text>
<text class="lb" x="469.0" y="629.1" textLength="102.2" lengthAdjust="spacingAndGlyphs">Ακροπόλεως Μυκηνών</text>
<text class="lb" x="473.0" y="642.4" textLength="94.7" lengthAdjust="spacingAndGlyphs">και Θησαυρού Ατρέα</text>
<text class="lb" x="508.8" y="655.4" textLength="21.7" lengthAdjust="spacingAndGlyphs">3,2%</text>
<text class="lb" x="527.0" y="699.6" textLength="94.9" lengthAdjust="spacingAndGlyphs">Ακροπόλεως Αθηνών</text>
<text class="lb" x="561.2" y="712.3" textLength="26.3" lengthAdjust="spacingAndGlyphs">27,1%</text>
<text class="lb" x="622.1" y="774.0" textLength="36.2" lengthAdjust="spacingAndGlyphs">Σουνίου</text>
<text class="lb" x="629.5" y="786.2" textLength="21.7" lengthAdjust="spacingAndGlyphs">2,9%</text>
<text class="lb" x="569.4" y="816.6" textLength="90.5" lengthAdjust="spacingAndGlyphs">Ακροπόλεως Λίνδου</text>
<text class="lb" x="603.7" y="829.6" textLength="21.6" lengthAdjust="spacingAndGlyphs">4,8%</text>
<text class="lb" x="480.8" y="832.2" textLength="72.7" lengthAdjust="spacingAndGlyphs">Βασιλικοί Τάφοι</text>
<text class="lb" x="497.6" y="845.1" textLength="40.4" lengthAdjust="spacingAndGlyphs">Βεργίνας</text>
<text class="lb" x="507.3" y="858.0" textLength="21.0" lengthAdjust="spacingAndGlyphs">1,9%</text>
<text class="lb" x="340.3" y="845.2" textLength="83.2" lengthAdjust="spacingAndGlyphs">Αρχαίας Ολυμπίας</text>
<text class="lb" x="370.8" y="858.2" textLength="21.4" lengthAdjust="spacingAndGlyphs">3,5%</text>
<text class="lb" x="137.9" y="850.3" textLength="76.4" lengthAdjust="spacingAndGlyphs">Κνωσού (Κρήτης)</text>
<text class="lb" x="164.7" y="863.1" textLength="21.7" lengthAdjust="spacingAndGlyphs">6,5%</text>
<text class="lb" x="74.8" y="819.0" textLength="79.5" lengthAdjust="spacingAndGlyphs">Φαιστού (Κρήτης)</text>
<text class="lb" x="104.0" y="831.8" textLength="21.6" lengthAdjust="spacingAndGlyphs">0,6%</text>
<text class="lb" x="71.4" y="779.6" textLength="81.6" lengthAdjust="spacingAndGlyphs">Αρχαίας Κορίνθου</text>
<text class="lb" x="101.6" y="792.2" textLength="21.4" lengthAdjust="spacingAndGlyphs">1,7%</text>
<text class="lb" x="77.4" y="745.6" textLength="36.5" lengthAdjust="spacingAndGlyphs">Μυστρά</text>
<text class="lb" x="84.7" y="758.1" textLength="21.3" lengthAdjust="spacingAndGlyphs">1,0%</text>
<text class="lb" x="89.1" y="713.8" textLength="36.5" lengthAdjust="spacingAndGlyphs">Δελφών</text>
<text class="lb" x="96.4" y="726.6" textLength="21.4" lengthAdjust="spacingAndGlyphs">3,7%</text>
<text class="lb" x="114.4" y="663.5" textLength="104.6" lengthAdjust="spacingAndGlyphs">Λοιπών αρχαιολογικών</text>
<text class="lb" x="151.2" y="676.5" textLength="31.0" lengthAdjust="spacingAndGlyphs">χώρων</text>
<text class="lb" x="153.5" y="689.5" textLength="26.1" lengthAdjust="spacingAndGlyphs">38,9%</text>
</svg>
</body></html>
